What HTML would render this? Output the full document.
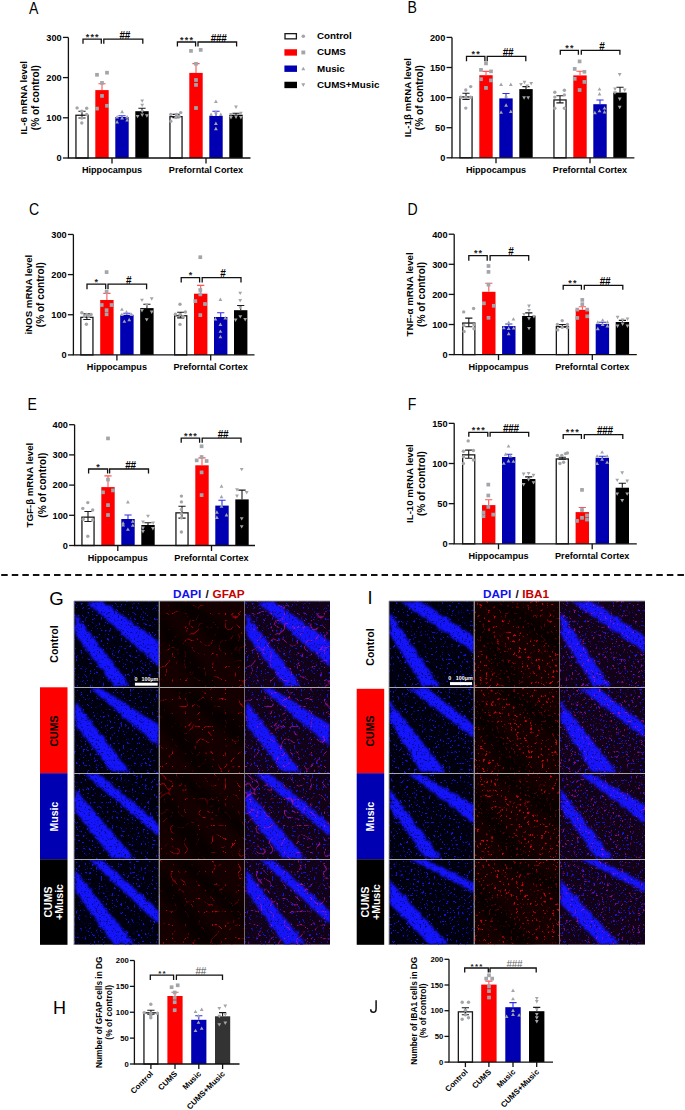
<!DOCTYPE html><html><head><meta charset="utf-8"><style>html,body{margin:0;padding:0;background:#fff;width:685px;height:1110px;overflow:hidden}svg{display:block}text{font-family:"Liberation Sans", sans-serif}</style></head><body>
<svg width="685" height="1110" viewBox="0 0 685 1110">
<rect width="685" height="1110" fill="#fff"/>
<text transform="translate(29.1 13.5) scale(0.88 1)" font-size="16" fill="#000">A</text>
<text transform="translate(407.5 13) scale(0.88 1)" font-size="16" fill="#000">B</text>
<text transform="translate(29 214.8) scale(0.88 1)" font-size="16" fill="#000">C</text>
<text transform="translate(407.5 214.9) scale(0.88 1)" font-size="16" fill="#000">D</text>
<text transform="translate(27.6 410.3) scale(0.88 1)" font-size="16" fill="#000">E</text>
<text transform="translate(407.7 409.6) scale(0.88 1)" font-size="16" fill="#000">F</text>
<text transform="translate(49.3 604.6) scale(1.0 1)" font-size="18.6" fill="#000">G</text>
<text transform="translate(367.4 603.7) scale(1.0 1)" font-size="18.3" fill="#000">I</text>
<text transform="translate(53 1014) scale(1.0 1)" font-size="18" fill="#000">H</text>
<path d="M376.1 1000.2V1008.4C376.1 1011.3 374.7 1012.3 373.3 1012.3C371.8 1012.3 370.7 1011.3 370.7 1009.2" stroke="#111" stroke-width="1.5" fill="none"/>
<rect x="75.95" y="115.25" width="12.1" height="42.75" fill="#fff" stroke="#1a1a1a" stroke-width="1.3"/>
<rect x="95.3" y="90.1" width="13.4" height="67.9" fill="#ff0000"/>
<rect x="115.3" y="117" width="13.4" height="41" fill="#0000b2"/>
<rect x="135.3" y="111.2" width="13.4" height="46.8" fill="#000000"/>
<rect x="169.95" y="116.65" width="12.1" height="41.35" fill="#fff" stroke="#1a1a1a" stroke-width="1.3"/>
<rect x="189.3" y="72.9" width="13.4" height="85.1" fill="#ff0000"/>
<rect x="209.3" y="116" width="13.4" height="42" fill="#0000b2"/>
<rect x="229.3" y="114.7" width="13.4" height="43.3" fill="#000000"/>
<path d="M82 118V111.2M78.4 111.2H85.6M78.4 118H85.6" stroke="#1a1a1a" stroke-width="1.1" fill="none"/>
<path d="M102 90.1V83.7M98.4 83.7H105.6" stroke="#ff5555" stroke-width="1.1" fill="none"/>
<path d="M122 117V115.8M118.4 115.8H125.6" stroke="#3030e8" stroke-width="1.1" fill="none"/>
<path d="M142 111.2V108.3M138.4 108.3H145.6" stroke="#1a1a1a" stroke-width="1.1" fill="none"/>
<path d="M176 117.6V114.4M172.4 114.4H179.6M172.4 117.6H179.6" stroke="#1a1a1a" stroke-width="1.1" fill="none"/>
<path d="M196 72.9V63.6M192.4 63.6H199.6" stroke="#ff5555" stroke-width="1.1" fill="none"/>
<path d="M216 116V111.3M212.4 111.3H219.6" stroke="#3030e8" stroke-width="1.1" fill="none"/>
<path d="M236 114.7V113.2M232.4 113.2H239.6" stroke="#1a1a1a" stroke-width="1.1" fill="none"/>
<circle cx="77.1" cy="107.9" r="1.7" fill="#a2a5a9"/>
<circle cx="86.7" cy="108.3" r="1.7" fill="#a2a5a9"/>
<circle cx="81.8" cy="111.2" r="1.7" fill="#a2a5a9"/>
<circle cx="86.7" cy="114.5" r="1.7" fill="#a2a5a9"/>
<circle cx="81.8" cy="118" r="1.7" fill="#a2a5a9"/>
<circle cx="81.8" cy="123" r="1.7" fill="#a2a5a9"/>
<rect x="95.15" y="72.95" width="3.7" height="3.7" fill="#a2a5a9"/>
<rect x="105.15" y="70.85" width="3.7" height="3.7" fill="#a2a5a9"/>
<rect x="100.15" y="81.05" width="3.7" height="3.7" fill="#a2a5a9"/>
<rect x="100.15" y="94.05" width="3.7" height="3.7" fill="#a2a5a9"/>
<rect x="95.15" y="106.75" width="3.7" height="3.7" fill="#a2a5a9"/>
<rect x="105.15" y="103.95" width="3.7" height="3.7" fill="#a2a5a9"/>
<path d="M122.1 109.8L124 113.22L120.2 113.22Z" fill="#a2a5a9"/>
<path d="M117.1 115.1L119 118.52L115.2 118.52Z" fill="#a2a5a9"/>
<path d="M122.1 116.1L124 119.52L120.2 119.52Z" fill="#a2a5a9"/>
<path d="M127.1 115.1L129 118.52L125.2 118.52Z" fill="#a2a5a9"/>
<path d="M117.1 120.1L119 123.52L115.2 123.52Z" fill="#a2a5a9"/>
<path d="M127.1 118.2L129 121.62L125.2 121.62Z" fill="#a2a5a9"/>
<path d="M142.2 102.8L144.1 99.38L140.3 99.38Z" fill="#a2a5a9"/>
<path d="M142.2 107.1L144.1 103.68L140.3 103.68Z" fill="#a2a5a9"/>
<path d="M142.2 113.3L144.1 109.88L140.3 109.88Z" fill="#a2a5a9"/>
<path d="M137.6 118.3L139.5 114.88L135.7 114.88Z" fill="#a2a5a9"/>
<path d="M142.2 117L144.1 113.58L140.3 113.58Z" fill="#a2a5a9"/>
<path d="M146.9 117.7L148.8 114.28L145 114.28Z" fill="#a2a5a9"/>
<circle cx="170.8" cy="114.4" r="1.7" fill="#a2a5a9"/>
<circle cx="176.4" cy="114.4" r="1.7" fill="#a2a5a9"/>
<circle cx="180.7" cy="112.6" r="1.7" fill="#a2a5a9"/>
<circle cx="178.9" cy="116.3" r="1.7" fill="#a2a5a9"/>
<circle cx="170.8" cy="121.3" r="1.7" fill="#a2a5a9"/>
<circle cx="176" cy="117.5" r="1.7" fill="#a2a5a9"/>
<rect x="189.15" y="49.05" width="3.7" height="3.7" fill="#a2a5a9"/>
<rect x="198.85" y="48.05" width="3.7" height="3.7" fill="#a2a5a9"/>
<rect x="194.15" y="61.95" width="3.7" height="3.7" fill="#a2a5a9"/>
<rect x="194.15" y="78.15" width="3.7" height="3.7" fill="#a2a5a9"/>
<rect x="194.15" y="83.05" width="3.7" height="3.7" fill="#a2a5a9"/>
<rect x="194.15" y="106.15" width="3.7" height="3.7" fill="#a2a5a9"/>
<path d="M215.9 99.5L217.8 102.92L214 102.92Z" fill="#a2a5a9"/>
<path d="M211.1 112.5L213 115.92L209.2 115.92Z" fill="#a2a5a9"/>
<path d="M220.8 112.5L222.7 115.92L218.9 115.92Z" fill="#a2a5a9"/>
<path d="M215.9 110.1L217.8 113.52L214 113.52Z" fill="#a2a5a9"/>
<path d="M215.9 121.5L217.8 124.92L214 124.92Z" fill="#a2a5a9"/>
<path d="M215.9 126.8L217.8 130.22L214 130.22Z" fill="#a2a5a9"/>
<path d="M236 108.9L237.9 105.48L234.1 105.48Z" fill="#a2a5a9"/>
<path d="M231 119.4L232.9 115.98L229.1 115.98Z" fill="#a2a5a9"/>
<path d="M236 118.9L237.9 115.48L234.1 115.48Z" fill="#a2a5a9"/>
<path d="M240.9 119.4L242.8 115.98L239 115.98Z" fill="#a2a5a9"/>
<path d="M231 116.3L232.9 112.88L229.1 112.88Z" fill="#a2a5a9"/>
<path d="M240.9 115.1L242.8 111.68L239 111.68Z" fill="#a2a5a9"/>
<path d="M68.4 37.4V158H250.5" stroke="#111111" stroke-width="1.3" fill="none"/>
<path d="M62.9 158H68.4" stroke="#111111" stroke-width="1.3"/>
<text x="61.7" y="161.31" font-size="9.2" text-anchor="end" font-weight="bold" fill="#000">0</text>
<path d="M62.9 117.8H68.4" stroke="#111111" stroke-width="1.3"/>
<text x="61.7" y="121.11" font-size="9.2" text-anchor="end" font-weight="bold" fill="#000">100</text>
<path d="M62.9 77.6H68.4" stroke="#111111" stroke-width="1.3"/>
<text x="61.7" y="80.91" font-size="9.2" text-anchor="end" font-weight="bold" fill="#000">200</text>
<path d="M62.9 37.4H68.4" stroke="#111111" stroke-width="1.3"/>
<text x="61.7" y="40.71" font-size="9.2" text-anchor="end" font-weight="bold" fill="#000">300</text>
<path d="M112 158V163.5" stroke="#111111" stroke-width="1.3"/>
<path d="M206 158V163.5" stroke="#111111" stroke-width="1.3"/>
<text x="112" y="173" font-size="9.1" text-anchor="middle" font-weight="bold" fill="#000">Hippocampus</text>
<text x="206" y="173" font-size="9.1" text-anchor="middle" font-weight="bold" fill="#000">Preforntal Cortex</text>
<text x="27.3" y="97.7" font-size="9.7" text-anchor="middle" font-weight="bold" fill="#000" transform="rotate(-90 27.3 97.7)">IL-6 mRNA level</text>
<text x="39.4" y="97.7" font-size="10.1" text-anchor="middle" font-weight="bold" fill="#000" transform="rotate(-90 39.4 97.7)">(% of control)</text>
<path d="M83 43.7V39.2H101.3V43.7" stroke="#111" stroke-width="1.3" fill="none"/>
<text x="92.75" y="39.7" font-size="9" text-anchor="middle" font-weight="bold" fill="#222" letter-spacing="1.2">***</text>
<path d="M103.8 43.7V39.2H142.8V43.7" stroke="#111" stroke-width="1.3" fill="none"/>
<text x="124.7" y="38.9" font-size="10" text-anchor="middle" font-weight="bold" fill="#000" letter-spacing="-0.3">##</text>
<path d="M177.4 46.4V42H195.6V46.4" stroke="#111" stroke-width="1.3" fill="none"/>
<text x="187.1" y="42.5" font-size="9" text-anchor="middle" font-weight="bold" fill="#222" letter-spacing="1.2">***</text>
<path d="M198 46.4V42H236.6V46.4" stroke="#111" stroke-width="1.3" fill="none"/>
<text x="218.7" y="41.7" font-size="10" text-anchor="middle" font-weight="bold" fill="#000" letter-spacing="-0.3">###</text>
<rect x="459.95" y="96.95" width="12.1" height="60.85" fill="#fff" stroke="#1a1a1a" stroke-width="1.3"/>
<rect x="479.3" y="75.2" width="13.4" height="82.6" fill="#ff0000"/>
<rect x="499.3" y="98.4" width="13.4" height="59.4" fill="#0000b2"/>
<rect x="519.3" y="89.1" width="13.4" height="68.7" fill="#000000"/>
<rect x="553.95" y="99.95" width="12.1" height="57.85" fill="#fff" stroke="#1a1a1a" stroke-width="1.3"/>
<rect x="573.3" y="75.4" width="13.4" height="82.4" fill="#ff0000"/>
<rect x="593.3" y="104.2" width="13.4" height="53.6" fill="#0000b2"/>
<rect x="613.3" y="92.6" width="13.4" height="65.2" fill="#000000"/>
<path d="M466 99.4V93.2M462.4 93.2H469.6M462.4 99.4H469.6" stroke="#1a1a1a" stroke-width="1.1" fill="none"/>
<path d="M486 75.2V71.4M482.4 71.4H489.6" stroke="#ff5555" stroke-width="1.1" fill="none"/>
<path d="M506 98.4V93.5M502.4 93.5H509.6" stroke="#3030e8" stroke-width="1.1" fill="none"/>
<path d="M526 89.1V86.6M522.4 86.6H529.6" stroke="#1a1a1a" stroke-width="1.1" fill="none"/>
<path d="M560 102.9V95.7M556.4 95.7H563.6M556.4 102.9H563.6" stroke="#1a1a1a" stroke-width="1.1" fill="none"/>
<path d="M580 75.4V71.3M576.4 71.3H583.6" stroke="#ff5555" stroke-width="1.1" fill="none"/>
<path d="M600 104.2V100M596.4 100H603.6" stroke="#3030e8" stroke-width="1.1" fill="none"/>
<path d="M620 92.6V87.2M616.4 87.2H623.6" stroke="#1a1a1a" stroke-width="1.1" fill="none"/>
<circle cx="470.7" cy="86.6" r="1.7" fill="#a2a5a9"/>
<circle cx="465.8" cy="90" r="1.7" fill="#a2a5a9"/>
<circle cx="460.8" cy="97.2" r="1.7" fill="#a2a5a9"/>
<circle cx="465.8" cy="97.2" r="1.7" fill="#a2a5a9"/>
<circle cx="470.7" cy="97.2" r="1.7" fill="#a2a5a9"/>
<circle cx="465.8" cy="108.1" r="1.7" fill="#a2a5a9"/>
<rect x="484.15" y="61.55" width="3.7" height="3.7" fill="#a2a5a9"/>
<rect x="479.15" y="68.05" width="3.7" height="3.7" fill="#a2a5a9"/>
<rect x="489.15" y="69.55" width="3.7" height="3.7" fill="#a2a5a9"/>
<rect x="479.15" y="77.35" width="3.7" height="3.7" fill="#a2a5a9"/>
<rect x="489.15" y="78.55" width="3.7" height="3.7" fill="#a2a5a9"/>
<rect x="484.15" y="86.05" width="3.7" height="3.7" fill="#a2a5a9"/>
<path d="M501.1 82.5L503 85.92L499.2 85.92Z" fill="#a2a5a9"/>
<path d="M510.8 82.5L512.7 85.92L508.9 85.92Z" fill="#a2a5a9"/>
<path d="M506.1 94L508 97.42L504.2 97.42Z" fill="#a2a5a9"/>
<path d="M506.1 103.3L508 106.72L504.2 106.72Z" fill="#a2a5a9"/>
<path d="M501.1 110.4L503 113.82L499.2 113.82Z" fill="#a2a5a9"/>
<path d="M510.8 109.6L512.7 113.02L508.9 113.02Z" fill="#a2a5a9"/>
<path d="M521 86.3L522.9 82.88L519.1 82.88Z" fill="#a2a5a9"/>
<path d="M524.5 84.2L526.4 80.78L522.6 80.78Z" fill="#a2a5a9"/>
<path d="M531.2 85.4L533.1 81.98L529.3 81.98Z" fill="#a2a5a9"/>
<path d="M527.2 87.9L529.1 84.48L525.3 84.48Z" fill="#a2a5a9"/>
<path d="M524.1 99.7L526 96.28L522.2 96.28Z" fill="#a2a5a9"/>
<path d="M528.2 99.7L530.1 96.28L526.3 96.28Z" fill="#a2a5a9"/>
<circle cx="554.8" cy="92.2" r="1.7" fill="#a2a5a9"/>
<circle cx="564.4" cy="90.3" r="1.7" fill="#a2a5a9"/>
<circle cx="564.4" cy="94.9" r="1.7" fill="#a2a5a9"/>
<circle cx="554.8" cy="97.1" r="1.7" fill="#a2a5a9"/>
<circle cx="554.8" cy="108.3" r="1.7" fill="#a2a5a9"/>
<circle cx="564.4" cy="108.3" r="1.7" fill="#a2a5a9"/>
<rect x="577.75" y="59.55" width="3.7" height="3.7" fill="#a2a5a9"/>
<rect x="572.85" y="67.05" width="3.7" height="3.7" fill="#a2a5a9"/>
<rect x="582.55" y="69.95" width="3.7" height="3.7" fill="#a2a5a9"/>
<rect x="572.85" y="76.95" width="3.7" height="3.7" fill="#a2a5a9"/>
<rect x="582.55" y="80.05" width="3.7" height="3.7" fill="#a2a5a9"/>
<rect x="577.75" y="88.15" width="3.7" height="3.7" fill="#a2a5a9"/>
<path d="M599.5 87.2L601.4 90.62L597.6 90.62Z" fill="#a2a5a9"/>
<path d="M599.5 92.1L601.4 95.52L597.6 95.52Z" fill="#a2a5a9"/>
<path d="M604.5 106.2L606.4 109.62L602.6 109.62Z" fill="#a2a5a9"/>
<path d="M599.5 108.9L601.4 112.32L597.6 112.32Z" fill="#a2a5a9"/>
<path d="M604.5 110.1L606.4 113.52L602.6 113.52Z" fill="#a2a5a9"/>
<path d="M594.9 110.8L596.8 114.22L593 114.22Z" fill="#a2a5a9"/>
<path d="M619.7 76.5L621.6 73.08L617.8 73.08Z" fill="#a2a5a9"/>
<path d="M615 91L616.9 87.58L613.1 87.58Z" fill="#a2a5a9"/>
<path d="M624.7 91.9L626.6 88.48L622.8 88.48Z" fill="#a2a5a9"/>
<path d="M615 94.7L616.9 91.28L613.1 91.28Z" fill="#a2a5a9"/>
<path d="M619.7 100.9L621.6 97.48L617.8 97.48Z" fill="#a2a5a9"/>
<path d="M619.7 109.2L621.6 105.78L617.8 105.78Z" fill="#a2a5a9"/>
<path d="M452 37.4V157.8H634.4" stroke="#111111" stroke-width="1.3" fill="none"/>
<path d="M446.5 157.8H452" stroke="#111111" stroke-width="1.3"/>
<text x="445.3" y="161.11" font-size="9.2" text-anchor="end" font-weight="bold" fill="#000">0</text>
<path d="M446.5 127.7H452" stroke="#111111" stroke-width="1.3"/>
<text x="445.3" y="131.01" font-size="9.2" text-anchor="end" font-weight="bold" fill="#000">50</text>
<path d="M446.5 97.6H452" stroke="#111111" stroke-width="1.3"/>
<text x="445.3" y="100.91" font-size="9.2" text-anchor="end" font-weight="bold" fill="#000">100</text>
<path d="M446.5 67.5H452" stroke="#111111" stroke-width="1.3"/>
<text x="445.3" y="70.81" font-size="9.2" text-anchor="end" font-weight="bold" fill="#000">150</text>
<path d="M446.5 37.4H452" stroke="#111111" stroke-width="1.3"/>
<text x="445.3" y="40.71" font-size="9.2" text-anchor="end" font-weight="bold" fill="#000">200</text>
<path d="M496 157.8V163.3" stroke="#111111" stroke-width="1.3"/>
<path d="M590 157.8V163.3" stroke="#111111" stroke-width="1.3"/>
<text x="496" y="172.8" font-size="9.1" text-anchor="middle" font-weight="bold" fill="#000">Hippocampus</text>
<text x="590" y="172.8" font-size="9.1" text-anchor="middle" font-weight="bold" fill="#000">Preforntal Cortex</text>
<text x="410.9" y="97.6" font-size="9.7" text-anchor="middle" font-weight="bold" fill="#000" transform="rotate(-90 410.9 97.6)">IL-1β mRNA level</text>
<text x="423" y="97.6" font-size="10.1" text-anchor="middle" font-weight="bold" fill="#000" transform="rotate(-90 423 97.6)">(% of control)</text>
<path d="M466.5 61.3V56.4H484.9V61.3" stroke="#111" stroke-width="1.3" fill="none"/>
<text x="476.3" y="56.9" font-size="9" text-anchor="middle" font-weight="bold" fill="#222" letter-spacing="1.2">**</text>
<path d="M487.2 61.3V56.4H525.8V61.3" stroke="#111" stroke-width="1.3" fill="none"/>
<text x="507.9" y="56.1" font-size="10" text-anchor="middle" font-weight="bold" fill="#000" letter-spacing="-0.3">##</text>
<path d="M560.3 54.8V50.4H578.4V54.8" stroke="#111" stroke-width="1.3" fill="none"/>
<text x="569.95" y="50.9" font-size="9" text-anchor="middle" font-weight="bold" fill="#222" letter-spacing="1.2">**</text>
<path d="M581.3 54.8V50.4H619.9V54.8" stroke="#111" stroke-width="1.3" fill="none"/>
<text x="602" y="50.1" font-size="10" text-anchor="middle" font-weight="bold" fill="#000" letter-spacing="-0.3">#</text>
<rect x="80.85" y="317.35" width="12.1" height="37.55" fill="#fff" stroke="#1a1a1a" stroke-width="1.3"/>
<rect x="100.2" y="300" width="13.4" height="54.9" fill="#ff0000"/>
<rect x="120.2" y="314.8" width="13.4" height="40.1" fill="#0000b2"/>
<rect x="140.2" y="308.1" width="13.4" height="46.8" fill="#000000"/>
<rect x="174.65" y="315.75" width="12.1" height="39.15" fill="#fff" stroke="#1a1a1a" stroke-width="1.3"/>
<rect x="194" y="293.7" width="13.4" height="61.2" fill="#ff0000"/>
<rect x="214" y="317" width="13.4" height="37.9" fill="#0000b2"/>
<rect x="234" y="310.2" width="13.4" height="44.7" fill="#000000"/>
<path d="M86.9 319.5V313.9M83.3 313.9H90.5M83.3 319.5H90.5" stroke="#1a1a1a" stroke-width="1.1" fill="none"/>
<path d="M106.9 300V293.4M103.3 293.4H110.5" stroke="#ff5555" stroke-width="1.1" fill="none"/>
<path d="M126.9 314.8V313.3M123.3 313.3H130.5" stroke="#3030e8" stroke-width="1.1" fill="none"/>
<path d="M146.9 308.1V304.3M143.3 304.3H150.5" stroke="#1a1a1a" stroke-width="1.1" fill="none"/>
<path d="M180.7 317.9V312.3M177.1 312.3H184.3M177.1 317.9H184.3" stroke="#1a1a1a" stroke-width="1.1" fill="none"/>
<path d="M200.7 293.7V285.4M197.1 285.4H204.3" stroke="#ff5555" stroke-width="1.1" fill="none"/>
<path d="M220.7 317V312.7M217.1 312.7H224.3" stroke="#3030e8" stroke-width="1.1" fill="none"/>
<path d="M240.7 310.2V305.5M237.1 305.5H244.3" stroke="#1a1a1a" stroke-width="1.1" fill="none"/>
<circle cx="81.8" cy="312.7" r="1.7" fill="#a2a5a9"/>
<circle cx="86.8" cy="314.5" r="1.7" fill="#a2a5a9"/>
<circle cx="91.1" cy="314.5" r="1.7" fill="#a2a5a9"/>
<circle cx="84.3" cy="316.4" r="1.7" fill="#a2a5a9"/>
<circle cx="88.6" cy="316.4" r="1.7" fill="#a2a5a9"/>
<circle cx="86.4" cy="324.2" r="1.7" fill="#a2a5a9"/>
<rect x="104.75" y="270.25" width="3.7" height="3.7" fill="#a2a5a9"/>
<rect x="104.75" y="290.05" width="3.7" height="3.7" fill="#a2a5a9"/>
<rect x="99.85" y="303.15" width="3.7" height="3.7" fill="#a2a5a9"/>
<rect x="109.75" y="303.15" width="3.7" height="3.7" fill="#a2a5a9"/>
<rect x="104.75" y="308.35" width="3.7" height="3.7" fill="#a2a5a9"/>
<rect x="104.75" y="312.45" width="3.7" height="3.7" fill="#a2a5a9"/>
<path d="M121.9 307.4L123.8 310.82L120 310.82Z" fill="#a2a5a9"/>
<path d="M126.5 310.1L128.4 313.52L124.6 313.52Z" fill="#a2a5a9"/>
<path d="M121.9 312.6L123.8 316.02L120 316.02Z" fill="#a2a5a9"/>
<path d="M131.5 312.6L133.4 316.02L129.6 316.02Z" fill="#a2a5a9"/>
<path d="M124.4 319.4L126.3 322.82L122.5 322.82Z" fill="#a2a5a9"/>
<path d="M129.2 317.8L131.1 321.22L127.3 321.22Z" fill="#a2a5a9"/>
<path d="M142 302.1L143.9 298.68L140.1 298.68Z" fill="#a2a5a9"/>
<path d="M151.7 300.7L153.6 297.28L149.8 297.28Z" fill="#a2a5a9"/>
<path d="M146.7 307.1L148.6 303.68L144.8 303.68Z" fill="#a2a5a9"/>
<path d="M142 312.4L143.9 308.98L140.1 308.98Z" fill="#a2a5a9"/>
<path d="M151.7 313.9L153.6 310.48L149.8 310.48Z" fill="#a2a5a9"/>
<path d="M146.7 321.6L148.6 318.18L144.8 318.18Z" fill="#a2a5a9"/>
<circle cx="180" cy="304.3" r="1.7" fill="#a2a5a9"/>
<circle cx="185.4" cy="312" r="1.7" fill="#a2a5a9"/>
<circle cx="175.4" cy="314.3" r="1.7" fill="#a2a5a9"/>
<circle cx="180" cy="314.5" r="1.7" fill="#a2a5a9"/>
<circle cx="182.9" cy="316.4" r="1.7" fill="#a2a5a9"/>
<circle cx="180" cy="324.4" r="1.7" fill="#a2a5a9"/>
<rect x="198.45" y="255.35" width="3.7" height="3.7" fill="#a2a5a9"/>
<rect x="198.45" y="288.15" width="3.7" height="3.7" fill="#a2a5a9"/>
<rect x="198.45" y="292.55" width="3.7" height="3.7" fill="#a2a5a9"/>
<rect x="193.45" y="299.25" width="3.7" height="3.7" fill="#a2a5a9"/>
<rect x="203.15" y="302.15" width="3.7" height="3.7" fill="#a2a5a9"/>
<rect x="198.45" y="313.25" width="3.7" height="3.7" fill="#a2a5a9"/>
<path d="M220.4 297.5L222.3 300.92L218.5 300.92Z" fill="#a2a5a9"/>
<path d="M215.4 317L217.3 320.42L213.5 320.42Z" fill="#a2a5a9"/>
<path d="M225.3 316.1L227.2 319.52L223.4 319.52Z" fill="#a2a5a9"/>
<path d="M220.4 322.5L222.3 325.92L218.5 325.92Z" fill="#a2a5a9"/>
<path d="M220.4 329.4L222.3 332.82L218.5 332.82Z" fill="#a2a5a9"/>
<path d="M220.4 334.9L222.3 338.32L218.5 338.32Z" fill="#a2a5a9"/>
<path d="M240.2 295.1L242.1 291.68L238.3 291.68Z" fill="#a2a5a9"/>
<path d="M240.2 302.5L242.1 299.08L238.3 299.08Z" fill="#a2a5a9"/>
<path d="M240.2 309.6L242.1 306.18L238.3 306.18Z" fill="#a2a5a9"/>
<path d="M235.6 322L237.5 318.58L233.7 318.58Z" fill="#a2a5a9"/>
<path d="M240.3 318.6L242.2 315.18L238.4 315.18Z" fill="#a2a5a9"/>
<path d="M245.2 321.4L247.1 317.98L243.3 317.98Z" fill="#a2a5a9"/>
<path d="M73.4 234.45V354.9H254.5" stroke="#111111" stroke-width="1.3" fill="none"/>
<path d="M67.9 354.9H73.4" stroke="#111111" stroke-width="1.3"/>
<text x="66.7" y="358.21" font-size="9.2" text-anchor="end" font-weight="bold" fill="#000">0</text>
<path d="M67.9 314.75H73.4" stroke="#111111" stroke-width="1.3"/>
<text x="66.7" y="318.06" font-size="9.2" text-anchor="end" font-weight="bold" fill="#000">100</text>
<path d="M67.9 274.6H73.4" stroke="#111111" stroke-width="1.3"/>
<text x="66.7" y="277.91" font-size="9.2" text-anchor="end" font-weight="bold" fill="#000">200</text>
<path d="M67.9 234.45H73.4" stroke="#111111" stroke-width="1.3"/>
<text x="66.7" y="237.76" font-size="9.2" text-anchor="end" font-weight="bold" fill="#000">300</text>
<path d="M116.9 354.9V360.4" stroke="#111111" stroke-width="1.3"/>
<path d="M210.7 354.9V360.4" stroke="#111111" stroke-width="1.3"/>
<text x="116.9" y="369.9" font-size="9.1" text-anchor="middle" font-weight="bold" fill="#000">Hippocampus</text>
<text x="210.7" y="369.9" font-size="9.1" text-anchor="middle" font-weight="bold" fill="#000">Preforntal Cortex</text>
<text x="32.3" y="294.67" font-size="9.7" text-anchor="middle" font-weight="bold" fill="#000" transform="rotate(-90 32.3 294.67)">iNOS mRNA level</text>
<text x="44.4" y="294.67" font-size="10.1" text-anchor="middle" font-weight="bold" fill="#000" transform="rotate(-90 44.4 294.67)">(% of control)</text>
<path d="M87 289.2V284.2H105.7V289.2" stroke="#111" stroke-width="1.3" fill="none"/>
<text x="96.95" y="284.7" font-size="9" text-anchor="middle" font-weight="bold" fill="#222" letter-spacing="1.2">*</text>
<path d="M108 289.2V284.2H146.6V289.2" stroke="#111" stroke-width="1.3" fill="none"/>
<text x="128.7" y="283.9" font-size="10" text-anchor="middle" font-weight="bold" fill="#000" letter-spacing="-0.3">#</text>
<path d="M181.2 282.5V277.6H199.6V282.5" stroke="#111" stroke-width="1.3" fill="none"/>
<text x="191" y="278.1" font-size="9" text-anchor="middle" font-weight="bold" fill="#222" letter-spacing="1.2">*</text>
<path d="M202.2 282.5V277.6H241V282.5" stroke="#111" stroke-width="1.3" fill="none"/>
<text x="223" y="277.3" font-size="10" text-anchor="middle" font-weight="bold" fill="#000" letter-spacing="-0.3">#</text>
<rect x="462.75" y="323.05" width="12.1" height="31.55" fill="#fff" stroke="#1a1a1a" stroke-width="1.3"/>
<rect x="482.1" y="291.8" width="13.4" height="62.8" fill="#ff0000"/>
<rect x="502.1" y="326.1" width="13.4" height="28.5" fill="#0000b2"/>
<rect x="522.1" y="316" width="13.4" height="38.6" fill="#000000"/>
<rect x="556.35" y="326.55" width="12.1" height="28.05" fill="#fff" stroke="#1a1a1a" stroke-width="1.3"/>
<rect x="575.7" y="309.8" width="13.4" height="44.8" fill="#ff0000"/>
<rect x="595.7" y="324.1" width="13.4" height="30.5" fill="#0000b2"/>
<rect x="615.7" y="322" width="13.4" height="32.6" fill="#000000"/>
<path d="M468.8 326.7V318.1M465.2 318.1H472.4M465.2 326.7H472.4" stroke="#1a1a1a" stroke-width="1.1" fill="none"/>
<path d="M488.8 291.8V283.3M485.2 283.3H492.4" stroke="#ff5555" stroke-width="1.1" fill="none"/>
<path d="M508.8 326.1V324M505.2 324H512.4" stroke="#3030e8" stroke-width="1.1" fill="none"/>
<path d="M528.8 316V312.9M525.2 312.9H532.4" stroke="#1a1a1a" stroke-width="1.1" fill="none"/>
<path d="M562.4 327.3V324.5M558.8 324.5H566M558.8 327.3H566" stroke="#1a1a1a" stroke-width="1.1" fill="none"/>
<path d="M582.4 309.8V306.7M578.8 306.7H586" stroke="#ff5555" stroke-width="1.1" fill="none"/>
<path d="M602.4 324.1V322.2M598.8 322.2H606" stroke="#3030e8" stroke-width="1.1" fill="none"/>
<path d="M622.4 322V320.4M618.8 320.4H626" stroke="#1a1a1a" stroke-width="1.1" fill="none"/>
<circle cx="463.7" cy="311.9" r="1.7" fill="#a2a5a9"/>
<circle cx="473.6" cy="308.5" r="1.7" fill="#a2a5a9"/>
<circle cx="463.7" cy="325.5" r="1.7" fill="#a2a5a9"/>
<circle cx="474" cy="324.7" r="1.7" fill="#a2a5a9"/>
<circle cx="464.1" cy="331.5" r="1.7" fill="#a2a5a9"/>
<circle cx="474" cy="328.7" r="1.7" fill="#a2a5a9"/>
<rect x="486.65" y="264.15" width="3.7" height="3.7" fill="#a2a5a9"/>
<rect x="486.65" y="270.05" width="3.7" height="3.7" fill="#a2a5a9"/>
<rect x="486.65" y="282.85" width="3.7" height="3.7" fill="#a2a5a9"/>
<rect x="482.05" y="301.45" width="3.7" height="3.7" fill="#a2a5a9"/>
<rect x="491.95" y="303.95" width="3.7" height="3.7" fill="#a2a5a9"/>
<rect x="486.65" y="315.95" width="3.7" height="3.7" fill="#a2a5a9"/>
<path d="M513.4 317.2L515.3 320.62L511.5 320.62Z" fill="#a2a5a9"/>
<path d="M508.7 320.5L510.6 323.92L506.8 323.92Z" fill="#a2a5a9"/>
<path d="M503.8 325.9L505.7 329.32L501.9 329.32Z" fill="#a2a5a9"/>
<path d="M508.7 326.5L510.6 329.92L506.8 329.92Z" fill="#a2a5a9"/>
<path d="M513.7 326.2L515.6 329.62L511.8 329.62Z" fill="#a2a5a9"/>
<path d="M508.7 331.8L510.6 335.22L506.8 335.22Z" fill="#a2a5a9"/>
<path d="M529 307.9L530.9 304.48L527.1 304.48Z" fill="#a2a5a9"/>
<path d="M529 312.3L530.9 308.88L527.1 308.88Z" fill="#a2a5a9"/>
<path d="M524 316.3L525.9 312.88L522.1 312.88Z" fill="#a2a5a9"/>
<path d="M533.9 318.5L535.8 315.08L532 315.08Z" fill="#a2a5a9"/>
<path d="M529 320.4L530.9 316.98L527.1 316.98Z" fill="#a2a5a9"/>
<path d="M529 330.3L530.9 326.88L527.1 326.88Z" fill="#a2a5a9"/>
<circle cx="562.2" cy="320.6" r="1.7" fill="#a2a5a9"/>
<circle cx="557.4" cy="324.5" r="1.7" fill="#a2a5a9"/>
<circle cx="567.4" cy="324.5" r="1.7" fill="#a2a5a9"/>
<circle cx="562.2" cy="327.2" r="1.7" fill="#a2a5a9"/>
<circle cx="557.7" cy="329.9" r="1.7" fill="#a2a5a9"/>
<circle cx="567.4" cy="327.8" r="1.7" fill="#a2a5a9"/>
<rect x="580.45" y="298.05" width="3.7" height="3.7" fill="#a2a5a9"/>
<rect x="580.45" y="302.35" width="3.7" height="3.7" fill="#a2a5a9"/>
<rect x="575.45" y="307.75" width="3.7" height="3.7" fill="#a2a5a9"/>
<rect x="585.35" y="307.75" width="3.7" height="3.7" fill="#a2a5a9"/>
<rect x="575.45" y="316.05" width="3.7" height="3.7" fill="#a2a5a9"/>
<rect x="585.35" y="314.45" width="3.7" height="3.7" fill="#a2a5a9"/>
<path d="M602.7 318.2L604.6 321.62L600.8 321.62Z" fill="#a2a5a9"/>
<path d="M597.8 320.3L599.7 323.72L595.9 323.72Z" fill="#a2a5a9"/>
<path d="M607.4 320.1L609.3 323.52L605.5 323.52Z" fill="#a2a5a9"/>
<path d="M602.7 322.6L604.6 326.02L600.8 326.02Z" fill="#a2a5a9"/>
<path d="M607.4 324L609.3 327.42L605.5 327.42Z" fill="#a2a5a9"/>
<path d="M597.8 326.8L599.7 330.22L595.9 330.22Z" fill="#a2a5a9"/>
<path d="M617.6 319.2L619.5 315.78L615.7 315.78Z" fill="#a2a5a9"/>
<path d="M627.5 321L629.4 317.58L625.6 317.58Z" fill="#a2a5a9"/>
<path d="M622.6 321.9L624.5 318.48L620.7 318.48Z" fill="#a2a5a9"/>
<path d="M617.6 327.9L619.5 324.48L615.7 324.48Z" fill="#a2a5a9"/>
<path d="M622.6 326L624.5 322.58L620.7 322.58Z" fill="#a2a5a9"/>
<path d="M627.5 327.9L629.4 324.48L625.6 324.48Z" fill="#a2a5a9"/>
<path d="M454.2 234.2V354.6H636.8" stroke="#111111" stroke-width="1.3" fill="none"/>
<path d="M448.7 354.6H454.2" stroke="#111111" stroke-width="1.3"/>
<text x="447.5" y="357.91" font-size="9.2" text-anchor="end" font-weight="bold" fill="#000">0</text>
<path d="M448.7 324.5H454.2" stroke="#111111" stroke-width="1.3"/>
<text x="447.5" y="327.81" font-size="9.2" text-anchor="end" font-weight="bold" fill="#000">100</text>
<path d="M448.7 294.4H454.2" stroke="#111111" stroke-width="1.3"/>
<text x="447.5" y="297.71" font-size="9.2" text-anchor="end" font-weight="bold" fill="#000">200</text>
<path d="M448.7 264.3H454.2" stroke="#111111" stroke-width="1.3"/>
<text x="447.5" y="267.61" font-size="9.2" text-anchor="end" font-weight="bold" fill="#000">300</text>
<path d="M448.7 234.2H454.2" stroke="#111111" stroke-width="1.3"/>
<text x="447.5" y="237.51" font-size="9.2" text-anchor="end" font-weight="bold" fill="#000">400</text>
<path d="M498.5 354.6V360.1" stroke="#111111" stroke-width="1.3"/>
<path d="M592.3 354.6V360.1" stroke="#111111" stroke-width="1.3"/>
<text x="498.5" y="369.6" font-size="9.1" text-anchor="middle" font-weight="bold" fill="#000">Hippocampus</text>
<text x="592.3" y="369.6" font-size="9.1" text-anchor="middle" font-weight="bold" fill="#000">Preforntal Cortex</text>
<text x="413.1" y="294.4" font-size="9.7" text-anchor="middle" font-weight="bold" fill="#000" transform="rotate(-90 413.1 294.4)">TNF-α mRNA level</text>
<text x="425.2" y="294.4" font-size="10.1" text-anchor="middle" font-weight="bold" fill="#000" transform="rotate(-90 425.2 294.4)">(% of control)</text>
<path d="M468.8 260.7V255.7H487.2V260.7" stroke="#111" stroke-width="1.3" fill="none"/>
<text x="478.6" y="256.2" font-size="9" text-anchor="middle" font-weight="bold" fill="#222" letter-spacing="1.2">**</text>
<path d="M490.1 260.7V255.7H528.7V260.7" stroke="#111" stroke-width="1.3" fill="none"/>
<text x="510.8" y="255.4" font-size="10" text-anchor="middle" font-weight="bold" fill="#000" letter-spacing="-0.3">#</text>
<path d="M563.2 289.8V285.4H581.4V289.8" stroke="#111" stroke-width="1.3" fill="none"/>
<text x="572.9" y="285.9" font-size="9" text-anchor="middle" font-weight="bold" fill="#222" letter-spacing="1.2">**</text>
<path d="M584.3 289.8V285.4H622.8V289.8" stroke="#111" stroke-width="1.3" fill="none"/>
<text x="604.95" y="285.1" font-size="10" text-anchor="middle" font-weight="bold" fill="#000" letter-spacing="-0.3">##</text>
<rect x="81.95" y="517.15" width="12.1" height="28.35" fill="#fff" stroke="#1a1a1a" stroke-width="1.3"/>
<rect x="101.3" y="487.1" width="13.4" height="58.4" fill="#ff0000"/>
<rect x="121.3" y="519" width="13.4" height="26.5" fill="#0000b2"/>
<rect x="141.3" y="525" width="13.4" height="20.5" fill="#000000"/>
<rect x="175.95" y="512.85" width="12.1" height="32.65" fill="#fff" stroke="#1a1a1a" stroke-width="1.3"/>
<rect x="195.3" y="465.3" width="13.4" height="80.2" fill="#ff0000"/>
<rect x="215.3" y="505.6" width="13.4" height="39.9" fill="#0000b2"/>
<rect x="235.3" y="499.4" width="13.4" height="46.1" fill="#000000"/>
<path d="M88 521.5V511.5M84.4 511.5H91.6M84.4 521.5H91.6" stroke="#1a1a1a" stroke-width="1.1" fill="none"/>
<path d="M108 487.1V475.9M104.4 475.9H111.6" stroke="#ff5555" stroke-width="1.1" fill="none"/>
<path d="M128 519V515M124.4 515H131.6" stroke="#3030e8" stroke-width="1.1" fill="none"/>
<path d="M148 525V522.8M144.4 522.8H151.6" stroke="#1a1a1a" stroke-width="1.1" fill="none"/>
<path d="M182 518.1V506.3M178.4 506.3H185.6M178.4 518.1H185.6" stroke="#1a1a1a" stroke-width="1.1" fill="none"/>
<path d="M202 465.3V457.9M198.4 457.9H205.6" stroke="#ff5555" stroke-width="1.1" fill="none"/>
<path d="M222 505.6V500.3M218.4 500.3H225.6" stroke="#3030e8" stroke-width="1.1" fill="none"/>
<path d="M242 499.4V490.1M238.4 490.1H245.6" stroke="#1a1a1a" stroke-width="1.1" fill="none"/>
<circle cx="87.8" cy="502.6" r="1.7" fill="#a2a5a9"/>
<circle cx="82.8" cy="508.4" r="1.7" fill="#a2a5a9"/>
<circle cx="92.7" cy="510" r="1.7" fill="#a2a5a9"/>
<circle cx="83.2" cy="519.3" r="1.7" fill="#a2a5a9"/>
<circle cx="92.7" cy="520" r="1.7" fill="#a2a5a9"/>
<circle cx="87.8" cy="536.3" r="1.7" fill="#a2a5a9"/>
<rect x="106.15" y="436.55" width="3.7" height="3.7" fill="#a2a5a9"/>
<rect x="106.15" y="477.75" width="3.7" height="3.7" fill="#a2a5a9"/>
<rect x="101.15" y="490.45" width="3.7" height="3.7" fill="#a2a5a9"/>
<rect x="111.15" y="488.55" width="3.7" height="3.7" fill="#a2a5a9"/>
<rect x="106.15" y="503.25" width="3.7" height="3.7" fill="#a2a5a9"/>
<rect x="106.15" y="513.15" width="3.7" height="3.7" fill="#a2a5a9"/>
<path d="M127.9 500.1L129.8 503.52L126 503.52Z" fill="#a2a5a9"/>
<path d="M123.1 521.2L125 524.62L121.2 524.62Z" fill="#a2a5a9"/>
<path d="M132.8 519.3L134.7 522.72L130.9 522.72Z" fill="#a2a5a9"/>
<path d="M132.8 523.4L134.7 526.82L130.9 526.82Z" fill="#a2a5a9"/>
<path d="M127.9 527.4L129.8 530.82L126 530.82Z" fill="#a2a5a9"/>
<path d="M123.1 523.1L125 526.52L121.2 526.52Z" fill="#a2a5a9"/>
<path d="M148 518.1L149.9 514.68L146.1 514.68Z" fill="#a2a5a9"/>
<path d="M143 524L144.9 520.58L141.1 520.58Z" fill="#a2a5a9"/>
<path d="M153.2 525L155.1 521.58L151.3 521.58Z" fill="#a2a5a9"/>
<path d="M143 529.9L144.9 526.48L141.1 526.48Z" fill="#a2a5a9"/>
<path d="M152.9 530.5L154.8 527.08L151 527.08Z" fill="#a2a5a9"/>
<path d="M143 533.4L144.9 529.98L141.1 529.98Z" fill="#a2a5a9"/>
<circle cx="181.4" cy="496.1" r="1.7" fill="#a2a5a9"/>
<circle cx="181.4" cy="501.9" r="1.7" fill="#a2a5a9"/>
<circle cx="181.4" cy="509.4" r="1.7" fill="#a2a5a9"/>
<circle cx="181.4" cy="513.7" r="1.7" fill="#a2a5a9"/>
<circle cx="181.4" cy="517.8" r="1.7" fill="#a2a5a9"/>
<circle cx="181.4" cy="532" r="1.7" fill="#a2a5a9"/>
<rect x="199.75" y="444.45" width="3.7" height="3.7" fill="#a2a5a9"/>
<rect x="199.75" y="455.15" width="3.7" height="3.7" fill="#a2a5a9"/>
<rect x="194.85" y="458.55" width="3.7" height="3.7" fill="#a2a5a9"/>
<rect x="204.75" y="459.15" width="3.7" height="3.7" fill="#a2a5a9"/>
<rect x="199.75" y="470.55" width="3.7" height="3.7" fill="#a2a5a9"/>
<rect x="199.75" y="493.25" width="3.7" height="3.7" fill="#a2a5a9"/>
<path d="M221.5 484.3L223.4 487.72L219.6 487.72Z" fill="#a2a5a9"/>
<path d="M221.5 494.8L223.4 498.22L219.6 498.22Z" fill="#a2a5a9"/>
<path d="M221.5 504.4L223.4 507.82L219.6 507.82Z" fill="#a2a5a9"/>
<path d="M216.9 510.3L218.8 513.72L215 513.72Z" fill="#a2a5a9"/>
<path d="M226.5 513.1L228.4 516.52L224.6 516.52Z" fill="#a2a5a9"/>
<path d="M216.9 515.5L218.8 518.92L215 518.92Z" fill="#a2a5a9"/>
<path d="M241.7 471.3L243.6 467.88L239.8 467.88Z" fill="#a2a5a9"/>
<path d="M237 491.7L238.9 488.28L235.1 488.28Z" fill="#a2a5a9"/>
<path d="M246.7 494.5L248.6 491.08L244.8 491.08Z" fill="#a2a5a9"/>
<path d="M237 497.9L238.9 494.48L235.1 494.48Z" fill="#a2a5a9"/>
<path d="M241.7 520.6L243.6 517.18L239.8 517.18Z" fill="#a2a5a9"/>
<path d="M241.7 528.6L243.6 525.18L239.8 525.18Z" fill="#a2a5a9"/>
<path d="M74.6 424.7V545.5H255" stroke="#111111" stroke-width="1.3" fill="none"/>
<path d="M69.1 545.5H74.6" stroke="#111111" stroke-width="1.3"/>
<text x="67.9" y="548.81" font-size="9.2" text-anchor="end" font-weight="bold" fill="#000">0</text>
<path d="M69.1 515.3H74.6" stroke="#111111" stroke-width="1.3"/>
<text x="67.9" y="518.61" font-size="9.2" text-anchor="end" font-weight="bold" fill="#000">100</text>
<path d="M69.1 485.1H74.6" stroke="#111111" stroke-width="1.3"/>
<text x="67.9" y="488.41" font-size="9.2" text-anchor="end" font-weight="bold" fill="#000">200</text>
<path d="M69.1 454.9H74.6" stroke="#111111" stroke-width="1.3"/>
<text x="67.9" y="458.21" font-size="9.2" text-anchor="end" font-weight="bold" fill="#000">300</text>
<path d="M69.1 424.7H74.6" stroke="#111111" stroke-width="1.3"/>
<text x="67.9" y="428.01" font-size="9.2" text-anchor="end" font-weight="bold" fill="#000">400</text>
<path d="M117.8 545.5V551" stroke="#111111" stroke-width="1.3"/>
<path d="M211.5 545.5V551" stroke="#111111" stroke-width="1.3"/>
<text x="117.8" y="560.5" font-size="9.1" text-anchor="middle" font-weight="bold" fill="#000">Hippocampus</text>
<text x="211.5" y="560.5" font-size="9.1" text-anchor="middle" font-weight="bold" fill="#000">Preforntal Cortex</text>
<text x="33.5" y="485.1" font-size="9.7" text-anchor="middle" font-weight="bold" fill="#000" transform="rotate(-90 33.5 485.1)">TGF-β mRNA level</text>
<text x="45.6" y="485.1" font-size="10.1" text-anchor="middle" font-weight="bold" fill="#000" transform="rotate(-90 45.6 485.1)">(% of control)</text>
<path d="M88.6 473.4V469H107.6V473.4" stroke="#111" stroke-width="1.3" fill="none"/>
<text x="98.7" y="469.5" font-size="9" text-anchor="middle" font-weight="bold" fill="#222" letter-spacing="1.2">*</text>
<path d="M109.6 473.4V469H148.5V473.4" stroke="#111" stroke-width="1.3" fill="none"/>
<text x="130.45" y="468.7" font-size="10" text-anchor="middle" font-weight="bold" fill="#000" letter-spacing="-0.3">##</text>
<path d="M181.2 442.8V438.1H199.6V442.8" stroke="#111" stroke-width="1.3" fill="none"/>
<text x="191" y="438.6" font-size="9" text-anchor="middle" font-weight="bold" fill="#222" letter-spacing="1.2">***</text>
<path d="M202.2 442.8V438.1H241V442.8" stroke="#111" stroke-width="1.3" fill="none"/>
<text x="223" y="437.8" font-size="10" text-anchor="middle" font-weight="bold" fill="#000" letter-spacing="-0.3">##</text>
<rect x="462.65" y="454.85" width="12.1" height="88.95" fill="#fff" stroke="#1a1a1a" stroke-width="1.3"/>
<rect x="482" y="505.1" width="13.4" height="38.7" fill="#ff0000"/>
<rect x="502" y="457" width="13.4" height="86.8" fill="#0000b2"/>
<rect x="522" y="479" width="13.4" height="64.8" fill="#000000"/>
<rect x="556.25" y="458.95" width="12.1" height="84.85" fill="#fff" stroke="#1a1a1a" stroke-width="1.3"/>
<rect x="575.6" y="512.1" width="13.4" height="31.7" fill="#ff0000"/>
<rect x="595.6" y="457.9" width="13.4" height="85.9" fill="#0000b2"/>
<rect x="615.6" y="487.7" width="13.4" height="56.1" fill="#000000"/>
<path d="M468.7 458.3V450.1M465.1 450.1H472.3M465.1 458.3H472.3" stroke="#1a1a1a" stroke-width="1.1" fill="none"/>
<path d="M488.7 505.1V499.7M485.1 499.7H492.3" stroke="#ff5555" stroke-width="1.1" fill="none"/>
<path d="M508.7 457V454.2M505.1 454.2H512.3" stroke="#3030e8" stroke-width="1.1" fill="none"/>
<path d="M528.7 479V476.9M525.1 476.9H532.3" stroke="#1a1a1a" stroke-width="1.1" fill="none"/>
<path d="M562.3 459.3V457.3M558.7 457.3H565.9M558.7 459.3H565.9" stroke="#1a1a1a" stroke-width="1.1" fill="none"/>
<path d="M582.3 512.1V507.5M578.7 507.5H585.9" stroke="#ff5555" stroke-width="1.1" fill="none"/>
<path d="M602.3 457.9V456.3M598.7 456.3H605.9" stroke="#3030e8" stroke-width="1.1" fill="none"/>
<path d="M622.3 487.7V483.3M618.7 483.3H625.9" stroke="#1a1a1a" stroke-width="1.1" fill="none"/>
<circle cx="468.2" cy="440.9" r="1.7" fill="#a2a5a9"/>
<circle cx="473.4" cy="450.5" r="1.7" fill="#a2a5a9"/>
<circle cx="463.4" cy="451.3" r="1.7" fill="#a2a5a9"/>
<circle cx="463.4" cy="456.7" r="1.7" fill="#a2a5a9"/>
<circle cx="473.4" cy="460" r="1.7" fill="#a2a5a9"/>
<circle cx="463.4" cy="463.5" r="1.7" fill="#a2a5a9"/>
<rect x="486.45" y="482.75" width="3.7" height="3.7" fill="#a2a5a9"/>
<rect x="486.45" y="493.65" width="3.7" height="3.7" fill="#a2a5a9"/>
<rect x="486.45" y="505.05" width="3.7" height="3.7" fill="#a2a5a9"/>
<rect x="481.65" y="510.65" width="3.7" height="3.7" fill="#a2a5a9"/>
<rect x="481.65" y="514.35" width="3.7" height="3.7" fill="#a2a5a9"/>
<rect x="491.35" y="512.75" width="3.7" height="3.7" fill="#a2a5a9"/>
<path d="M508.5 444.2L510.4 447.62L506.6 447.62Z" fill="#a2a5a9"/>
<path d="M505.6 452.3L507.5 455.72L503.7 455.72Z" fill="#a2a5a9"/>
<path d="M510.6 454.2L512.5 457.62L508.7 457.62Z" fill="#a2a5a9"/>
<path d="M508.5 459.1L510.4 462.52L506.6 462.52Z" fill="#a2a5a9"/>
<path d="M513.4 459.4L515.3 462.82L511.5 462.82Z" fill="#a2a5a9"/>
<path d="M503.8 461.4L505.7 464.82L501.9 464.82Z" fill="#a2a5a9"/>
<path d="M523.6 475.9L525.5 472.48L521.7 472.48Z" fill="#a2a5a9"/>
<path d="M528.6 475.3L530.5 471.88L526.7 471.88Z" fill="#a2a5a9"/>
<path d="M533.5 477.2L535.4 473.78L531.6 473.78Z" fill="#a2a5a9"/>
<path d="M528.6 481.5L530.5 478.08L526.7 478.08Z" fill="#a2a5a9"/>
<path d="M523.6 486.5L525.5 483.08L521.7 483.08Z" fill="#a2a5a9"/>
<path d="M533.5 484.6L535.4 481.18L531.6 481.18Z" fill="#a2a5a9"/>
<circle cx="557.4" cy="455.4" r="1.7" fill="#a2a5a9"/>
<circle cx="561.8" cy="455.4" r="1.7" fill="#a2a5a9"/>
<circle cx="565.5" cy="453.6" r="1.7" fill="#a2a5a9"/>
<circle cx="567.4" cy="453" r="1.7" fill="#a2a5a9"/>
<circle cx="559.9" cy="463.5" r="1.7" fill="#a2a5a9"/>
<circle cx="563.6" cy="462.3" r="1.7" fill="#a2a5a9"/>
<rect x="580.15" y="488.05" width="3.7" height="3.7" fill="#a2a5a9"/>
<rect x="580.15" y="508.15" width="3.7" height="3.7" fill="#a2a5a9"/>
<rect x="585.15" y="513.55" width="3.7" height="3.7" fill="#a2a5a9"/>
<rect x="580.15" y="515.95" width="3.7" height="3.7" fill="#a2a5a9"/>
<rect x="575.15" y="519.05" width="3.7" height="3.7" fill="#a2a5a9"/>
<rect x="585.15" y="517.75" width="3.7" height="3.7" fill="#a2a5a9"/>
<path d="M602.1 450.2L604 453.62L600.2 453.62Z" fill="#a2a5a9"/>
<path d="M597.1 454.2L599 457.62L595.2 457.62Z" fill="#a2a5a9"/>
<path d="M607.1 454.2L609 457.62L605.2 457.62Z" fill="#a2a5a9"/>
<path d="M602.1 457.3L604 460.72L600.2 460.72Z" fill="#a2a5a9"/>
<path d="M597.1 461.6L599 465.02L595.2 465.02Z" fill="#a2a5a9"/>
<path d="M607.1 460.4L609 463.82L605.2 463.82Z" fill="#a2a5a9"/>
<path d="M622.2 474.7L624.1 471.28L620.3 471.28Z" fill="#a2a5a9"/>
<path d="M617.2 482.1L619.1 478.68L615.3 478.68Z" fill="#a2a5a9"/>
<path d="M627.2 483L629.1 479.58L625.3 479.58Z" fill="#a2a5a9"/>
<path d="M617.2 495.8L619.1 492.38L615.3 492.38Z" fill="#a2a5a9"/>
<path d="M627.2 495.8L629.1 492.38L625.3 492.38Z" fill="#a2a5a9"/>
<path d="M622.2 502.4L624.1 498.98L620.3 498.98Z" fill="#a2a5a9"/>
<path d="M454.2 423.35V543.8H636.8" stroke="#111111" stroke-width="1.3" fill="none"/>
<path d="M448.7 543.8H454.2" stroke="#111111" stroke-width="1.3"/>
<text x="447.5" y="547.11" font-size="9.2" text-anchor="end" font-weight="bold" fill="#000">0</text>
<path d="M448.7 503.65H454.2" stroke="#111111" stroke-width="1.3"/>
<text x="447.5" y="506.96" font-size="9.2" text-anchor="end" font-weight="bold" fill="#000">50</text>
<path d="M448.7 463.5H454.2" stroke="#111111" stroke-width="1.3"/>
<text x="447.5" y="466.81" font-size="9.2" text-anchor="end" font-weight="bold" fill="#000">100</text>
<path d="M448.7 423.35H454.2" stroke="#111111" stroke-width="1.3"/>
<text x="447.5" y="426.66" font-size="9.2" text-anchor="end" font-weight="bold" fill="#000">150</text>
<path d="M498.5 543.8V549.3" stroke="#111111" stroke-width="1.3"/>
<path d="M592.2 543.8V549.3" stroke="#111111" stroke-width="1.3"/>
<text x="498.5" y="558.8" font-size="9.1" text-anchor="middle" font-weight="bold" fill="#000">Hippocampus</text>
<text x="592.2" y="558.8" font-size="9.1" text-anchor="middle" font-weight="bold" fill="#000">Preforntal Cortex</text>
<text x="413.1" y="483.57" font-size="9.7" text-anchor="middle" font-weight="bold" fill="#000" transform="rotate(-90 413.1 483.57)">IL-10 mRNA level</text>
<text x="425.2" y="483.57" font-size="10.1" text-anchor="middle" font-weight="bold" fill="#000" transform="rotate(-90 425.2 483.57)">(% of control)</text>
<path d="M468.8 436.7V432.3H487.8V436.7" stroke="#111" stroke-width="1.3" fill="none"/>
<text x="478.9" y="432.8" font-size="9" text-anchor="middle" font-weight="bold" fill="#222" letter-spacing="1.2">***</text>
<path d="M490.1 436.7V432.3H528.7V436.7" stroke="#111" stroke-width="1.3" fill="none"/>
<text x="510.8" y="432" font-size="10" text-anchor="middle" font-weight="bold" fill="#000" letter-spacing="-0.3">###</text>
<path d="M563.2 439V434.6H581.4V439" stroke="#111" stroke-width="1.3" fill="none"/>
<text x="572.9" y="435.1" font-size="9" text-anchor="middle" font-weight="bold" fill="#222" letter-spacing="1.2">***</text>
<path d="M584.3 439V434.6H622.8V439" stroke="#111" stroke-width="1.3" fill="none"/>
<text x="604.95" y="434.3" font-size="10" text-anchor="middle" font-weight="bold" fill="#000" letter-spacing="-0.3">###</text>
<rect x="143.95" y="1012.85" width="13.9" height="51.15" fill="#fff" stroke="#1a1a1a" stroke-width="1.3"/>
<rect x="167.4" y="996" width="15.2" height="68" fill="#ff0000"/>
<rect x="191.2" y="1019.8" width="15.2" height="44.2" fill="#0000b2"/>
<rect x="215" y="1016.3" width="15.2" height="47.7" fill="#333333"/>
<path d="M150.9 1014.2V1010.2M147.3 1010.2H154.5M147.3 1014.2H154.5" stroke="#1a1a1a" stroke-width="1.1" fill="none"/>
<path d="M175 996V992.2M171.4 992.2H178.6" stroke="#ff5555" stroke-width="1.1" fill="none"/>
<path d="M198.8 1019.8V1015.8M195.2 1015.8H202.4" stroke="#3030e8" stroke-width="1.1" fill="none"/>
<path d="M222.6 1016.3V1012.6M219 1012.6H226.2" stroke="#1a1a1a" stroke-width="1.1" fill="none"/>
<circle cx="150.8" cy="1004.3" r="1.7" fill="#a2a5a9"/>
<circle cx="144.2" cy="1012.6" r="1.7" fill="#a2a5a9"/>
<circle cx="150.8" cy="1013.3" r="1.7" fill="#a2a5a9"/>
<circle cx="157.3" cy="1013.3" r="1.7" fill="#a2a5a9"/>
<circle cx="150.8" cy="1015.4" r="1.7" fill="#a2a5a9"/>
<circle cx="150.8" cy="1017.7" r="1.7" fill="#a2a5a9"/>
<rect x="169.75" y="985.35" width="3.7" height="3.7" fill="#a2a5a9"/>
<rect x="175.85" y="983.45" width="3.7" height="3.7" fill="#a2a5a9"/>
<rect x="172.85" y="990.65" width="3.7" height="3.7" fill="#a2a5a9"/>
<rect x="172.85" y="995.95" width="3.7" height="3.7" fill="#a2a5a9"/>
<rect x="172.85" y="1000.35" width="3.7" height="3.7" fill="#a2a5a9"/>
<rect x="172.85" y="1008.35" width="3.7" height="3.7" fill="#a2a5a9"/>
<path d="M195.5 1009.7L197.4 1013.12L193.6 1013.12Z" fill="#a2a5a9"/>
<path d="M201.7 1007.5L203.6 1010.92L199.8 1010.92Z" fill="#a2a5a9"/>
<path d="M198.5 1013.9L200.4 1017.32L196.6 1017.32Z" fill="#a2a5a9"/>
<path d="M198.5 1020.4L200.4 1023.82L196.6 1023.82Z" fill="#a2a5a9"/>
<path d="M195.5 1028.7L197.4 1032.12L193.6 1032.12Z" fill="#a2a5a9"/>
<path d="M201.7 1026.4L203.6 1029.82L199.8 1029.82Z" fill="#a2a5a9"/>
<path d="M219.3 1010.3L221.2 1006.88L217.4 1006.88Z" fill="#a2a5a9"/>
<path d="M225.3 1008L227.2 1004.58L223.4 1004.58Z" fill="#a2a5a9"/>
<path d="M219.3 1018.2L221.2 1014.78L217.4 1014.78Z" fill="#a2a5a9"/>
<path d="M225.3 1016.6L227.2 1013.18L223.4 1013.18Z" fill="#a2a5a9"/>
<path d="M219.3 1026.6L221.2 1023.18L217.4 1023.18Z" fill="#a2a5a9"/>
<path d="M225.3 1024.9L227.2 1021.48L223.4 1021.48Z" fill="#a2a5a9"/>
<path d="M134.4 960.5V1064H239.5" stroke="#111111" stroke-width="1.3" fill="none"/>
<path d="M129.9 1064H134.4" stroke="#111111" stroke-width="1.3"/>
<text x="128.7" y="1066.77" font-size="7.7" text-anchor="end" font-weight="bold" fill="#000">0</text>
<path d="M129.9 1038.12H134.4" stroke="#111111" stroke-width="1.3"/>
<text x="128.7" y="1040.9" font-size="7.7" text-anchor="end" font-weight="bold" fill="#000">50</text>
<path d="M129.9 1012.25H134.4" stroke="#111111" stroke-width="1.3"/>
<text x="128.7" y="1015.02" font-size="7.7" text-anchor="end" font-weight="bold" fill="#000">100</text>
<path d="M129.9 986.38H134.4" stroke="#111111" stroke-width="1.3"/>
<text x="128.7" y="989.15" font-size="7.7" text-anchor="end" font-weight="bold" fill="#000">150</text>
<path d="M129.9 960.5H134.4" stroke="#111111" stroke-width="1.3"/>
<text x="128.7" y="963.27" font-size="7.7" text-anchor="end" font-weight="bold" fill="#000">200</text>
<path d="M150.9 1064V1069" stroke="#111111" stroke-width="1.3"/>
<path d="M175 1064V1069" stroke="#111111" stroke-width="1.3"/>
<path d="M198.8 1064V1069" stroke="#111111" stroke-width="1.3"/>
<path d="M222.6 1064V1069" stroke="#111111" stroke-width="1.3"/>
<text x="102" y="1012.25" font-size="8.3" text-anchor="middle" font-weight="bold" fill="#000" transform="rotate(-90 102 1012.25)">Number of GFAP cells in DG</text>
<text x="111.6" y="1012.25" font-size="8.5" text-anchor="middle" font-weight="bold" fill="#000" transform="rotate(-90 111.6 1012.25)">(% of control)</text>
<path d="M150.3 980V975.2H173.6V980" stroke="#111" stroke-width="1.3" fill="none"/>
<text x="162.55" y="975.7" font-size="8" text-anchor="middle" font-weight="bold" fill="#222" letter-spacing="1.2">**</text>
<path d="M176.4 980V975.2H222.5V980" stroke="#111" stroke-width="1.3" fill="none"/>
<text x="200.85" y="974.9" font-size="10" text-anchor="middle" font-weight="normal" fill="#555" letter-spacing="-0.3">##</text>
<rect x="458.35" y="1011.85" width="14.1" height="50.25" fill="#fff" stroke="#1a1a1a" stroke-width="1.3"/>
<rect x="481.2" y="984.6" width="15.4" height="77.5" fill="#ff0000"/>
<rect x="505.3" y="1007.2" width="15.4" height="54.9" fill="#0000b2"/>
<rect x="529" y="1011.2" width="15.4" height="50.9" fill="#000000"/>
<path d="M465.4 1014.7V1007.7M461.8 1007.7H469M461.8 1014.7H469" stroke="#1a1a1a" stroke-width="1.1" fill="none"/>
<path d="M488.9 984.6V981.1M485.3 981.1H492.5" stroke="#ff5555" stroke-width="1.1" fill="none"/>
<path d="M513 1007.2V1002.6M509.4 1002.6H516.6" stroke="#3030e8" stroke-width="1.1" fill="none"/>
<path d="M536.7 1011.2V1007.4M533.1 1007.4H540.3" stroke="#1a1a1a" stroke-width="1.1" fill="none"/>
<circle cx="462.2" cy="1002.2" r="1.7" fill="#a2a5a9"/>
<circle cx="468.5" cy="1002.2" r="1.7" fill="#a2a5a9"/>
<circle cx="465.4" cy="1010.2" r="1.7" fill="#a2a5a9"/>
<circle cx="465.4" cy="1014.7" r="1.7" fill="#a2a5a9"/>
<circle cx="462.2" cy="1019.2" r="1.7" fill="#a2a5a9"/>
<circle cx="468.5" cy="1017.8" r="1.7" fill="#a2a5a9"/>
<rect x="487.15" y="973.45" width="3.7" height="3.7" fill="#a2a5a9"/>
<rect x="484.35" y="976.75" width="3.7" height="3.7" fill="#a2a5a9"/>
<rect x="490.35" y="976.75" width="3.7" height="3.7" fill="#a2a5a9"/>
<rect x="487.15" y="984.55" width="3.7" height="3.7" fill="#a2a5a9"/>
<rect x="487.15" y="989.25" width="3.7" height="3.7" fill="#a2a5a9"/>
<rect x="487.15" y="995.65" width="3.7" height="3.7" fill="#a2a5a9"/>
<path d="M513 988.6L514.9 992.02L511.1 992.02Z" fill="#a2a5a9"/>
<path d="M513 996.9L514.9 1000.32L511.1 1000.32Z" fill="#a2a5a9"/>
<path d="M513 1008.6L514.9 1012.02L511.1 1012.02Z" fill="#a2a5a9"/>
<path d="M513 1012.5L514.9 1015.92L511.1 1015.92Z" fill="#a2a5a9"/>
<path d="M506.6 1014.6L508.5 1018.02L504.7 1018.02Z" fill="#a2a5a9"/>
<path d="M519.1 1013.2L521 1016.62L517.2 1016.62Z" fill="#a2a5a9"/>
<path d="M536.8 1000.3L538.7 996.88L534.9 996.88Z" fill="#a2a5a9"/>
<path d="M536.8 1003.5L538.7 1000.08L534.9 1000.08Z" fill="#a2a5a9"/>
<path d="M536.8 1011.4L538.7 1007.98L534.9 1007.98Z" fill="#a2a5a9"/>
<path d="M536.8 1016.3L538.7 1012.88L534.9 1012.88Z" fill="#a2a5a9"/>
<path d="M536.8 1019.7L538.7 1016.28L534.9 1016.28Z" fill="#a2a5a9"/>
<path d="M536.8 1023.5L538.7 1020.08L534.9 1020.08Z" fill="#a2a5a9"/>
<path d="M449 959.3V1062.1H553" stroke="#111111" stroke-width="1.3" fill="none"/>
<path d="M444.5 1062.1H449" stroke="#111111" stroke-width="1.3"/>
<text x="443.3" y="1064.87" font-size="7.7" text-anchor="end" font-weight="bold" fill="#000">0</text>
<path d="M444.5 1036.4H449" stroke="#111111" stroke-width="1.3"/>
<text x="443.3" y="1039.17" font-size="7.7" text-anchor="end" font-weight="bold" fill="#000">50</text>
<path d="M444.5 1010.7H449" stroke="#111111" stroke-width="1.3"/>
<text x="443.3" y="1013.47" font-size="7.7" text-anchor="end" font-weight="bold" fill="#000">100</text>
<path d="M444.5 985H449" stroke="#111111" stroke-width="1.3"/>
<text x="443.3" y="987.77" font-size="7.7" text-anchor="end" font-weight="bold" fill="#000">150</text>
<path d="M444.5 959.3H449" stroke="#111111" stroke-width="1.3"/>
<text x="443.3" y="962.07" font-size="7.7" text-anchor="end" font-weight="bold" fill="#000">200</text>
<path d="M465.4 1062.1V1067.1" stroke="#111111" stroke-width="1.3"/>
<path d="M488.9 1062.1V1067.1" stroke="#111111" stroke-width="1.3"/>
<path d="M513 1062.1V1067.1" stroke="#111111" stroke-width="1.3"/>
<path d="M536.7 1062.1V1067.1" stroke="#111111" stroke-width="1.3"/>
<text x="416.6" y="1010.7" font-size="8.3" text-anchor="middle" font-weight="bold" fill="#000" transform="rotate(-90 416.6 1010.7)">Number of IBA1 cells in DG</text>
<text x="426.2" y="1010.7" font-size="8.5" text-anchor="middle" font-weight="bold" fill="#000" transform="rotate(-90 426.2 1010.7)">(% of control)</text>
<path d="M464.7 972.5V968H488.3V972.5" stroke="#111" stroke-width="1.3" fill="none"/>
<text x="477.1" y="968.5" font-size="8" text-anchor="middle" font-weight="bold" fill="#222" letter-spacing="1.2">***</text>
<path d="M490 972.5V968H536.2V972.5" stroke="#111" stroke-width="1.3" fill="none"/>
<text x="514.5" y="967.7" font-size="10" text-anchor="middle" font-weight="normal" fill="#666" letter-spacing="-0.3">###</text>
<text x="153.7" y="1074.4" font-size="7.9" text-anchor="end" font-weight="bold" fill="#000" transform="rotate(-45 153.7 1074.4)">Control</text>
<text x="177.8" y="1074.4" font-size="7.9" text-anchor="end" font-weight="bold" fill="#000" transform="rotate(-45 177.8 1074.4)">CUMS</text>
<text x="201.6" y="1074.4" font-size="7.9" text-anchor="end" font-weight="bold" fill="#000" transform="rotate(-45 201.6 1074.4)">Music</text>
<text x="225.4" y="1074.4" font-size="7.9" text-anchor="end" font-weight="bold" fill="#000" transform="rotate(-45 225.4 1074.4)">CUMS+Music</text>
<text x="468.2" y="1072.5" font-size="7.9" text-anchor="end" font-weight="bold" fill="#000" transform="rotate(-45 468.2 1072.5)">Control</text>
<text x="491.7" y="1072.5" font-size="7.9" text-anchor="end" font-weight="bold" fill="#000" transform="rotate(-45 491.7 1072.5)">CUMS</text>
<text x="515.8" y="1072.5" font-size="7.9" text-anchor="end" font-weight="bold" fill="#000" transform="rotate(-45 515.8 1072.5)">Music</text>
<text x="539.5" y="1072.5" font-size="7.9" text-anchor="end" font-weight="bold" fill="#000" transform="rotate(-45 539.5 1072.5)">CUMS+Music</text>
<rect x="285" y="33.65" width="11.4" height="5.2" fill="#fff" stroke="#1a1a1a" stroke-width="1.3"/>
<circle cx="303.3" cy="36.25" r="1.78" fill="#a2a5a9"/>
<text x="317" y="39.15" font-size="9.8" text-anchor="start" font-weight="bold" fill="#000">Control</text>
<rect x="284.4" y="49.25" width="12.6" height="6.4" fill="#ff0000"/>
<rect x="301.36" y="50.51" width="3.89" height="3.89" fill="#a2a5a9"/>
<text x="317" y="55.35" font-size="9.8" text-anchor="start" font-weight="bold" fill="#000">CUMS</text>
<rect x="284.4" y="65.5" width="12.6" height="6.4" fill="#0000b2"/>
<path d="M303.3 66.7L305.3 70.3L301.31 70.3Z" fill="#a2a5a9"/>
<text x="317" y="71.6" font-size="9.8" text-anchor="start" font-weight="bold" fill="#000">Music</text>
<rect x="284.4" y="81.75" width="12.6" height="6.4" fill="#000000"/>
<path d="M303.3 86.95L305.3 83.35L301.31 83.35Z" fill="#a2a5a9"/>
<text x="317" y="87.85" font-size="9.8" text-anchor="start" font-weight="bold" fill="#000">CUMS+Music</text>
<path d="M1.2 575H685" stroke="#111" stroke-width="1.9" stroke-dasharray="6.5 4.066"/>
<defs>
<filter id="fSpB0" x="0" y="0" width="1" height="1" color-interpolation-filters="sRGB">
<feTurbulence type="fractalNoise" baseFrequency="0.45" numOctaves="2" seed="3"/>
<feColorMatrix type="matrix" values="0 0 0 0 0.08  0 0 0 0 0.08  0 0 0 0 0.9  12 0 0 0 -7.8"/>
<feGaussianBlur stdDeviation="0.5"/>
</filter>
<filter id="fBand0" x="-0.1" y="-0.1" width="1.2" height="1.2" color-interpolation-filters="sRGB">
<feTurbulence type="fractalNoise" baseFrequency="0.25" numOctaves="2" seed="9" result="d"/>
<feMorphology in="SourceGraphic" operator="erode" radius="1.2" result="er"/>
<feDisplacementMap in="er" in2="d" scale="5" xChannelSelector="R" yChannelSelector="G" result="disp"/>
<feGaussianBlur in="disp" stdDeviation="0.8" result="b"/>
<feTurbulence type="fractalNoise" baseFrequency="0.55" numOctaves="2" seed="5" result="n"/>
<feColorMatrix in="n" type="matrix" values="0 0 0 0 0  0 0 0 0 0  0 0 0 0 0  3 0 0 0 -0.3" result="na"/>
<feComposite in="b" in2="na" operator="in"/>
</filter>
<filter id="fRed0" x="0" y="0" width="1" height="1" color-interpolation-filters="sRGB">
<feTurbulence type="turbulence" baseFrequency="0.075" numOctaves="2" seed="11"/>
<feColorMatrix type="matrix" values="0 0 0 0 0.72  0 0 0 0 0.02  0 0 0 0 0.02  -13 0 0 0 1.0"/>
<feGaussianBlur stdDeviation="0.45"/>
</filter>
<filter id="fRedM0" x="0" y="0" width="1" height="1" color-interpolation-filters="sRGB">
<feTurbulence type="turbulence" baseFrequency="0.075" numOctaves="2" seed="11"/>
<feColorMatrix type="matrix" values="0 0 0 0 0.8  0 0 0 0 0.08  0 0 0 0 0.7  -13 0 0 0 1.1"/>
<feGaussianBlur stdDeviation="0.45"/>
</filter>
<filter id="fSpB1" x="0" y="0" width="1" height="1" color-interpolation-filters="sRGB">
<feTurbulence type="fractalNoise" baseFrequency="0.45" numOctaves="2" seed="10"/>
<feColorMatrix type="matrix" values="0 0 0 0 0.08  0 0 0 0 0.08  0 0 0 0 0.9  12 0 0 0 -7.8"/>
<feGaussianBlur stdDeviation="0.5"/>
</filter>
<filter id="fBand1" x="-0.1" y="-0.1" width="1.2" height="1.2" color-interpolation-filters="sRGB">
<feTurbulence type="fractalNoise" baseFrequency="0.25" numOctaves="2" seed="12" result="d"/>
<feMorphology in="SourceGraphic" operator="erode" radius="1.2" result="er"/>
<feDisplacementMap in="er" in2="d" scale="5" xChannelSelector="R" yChannelSelector="G" result="disp"/>
<feGaussianBlur in="disp" stdDeviation="0.8" result="b"/>
<feTurbulence type="fractalNoise" baseFrequency="0.55" numOctaves="2" seed="8" result="n"/>
<feColorMatrix in="n" type="matrix" values="0 0 0 0 0  0 0 0 0 0  0 0 0 0 0  3 0 0 0 -0.3" result="na"/>
<feComposite in="b" in2="na" operator="in"/>
</filter>
<filter id="fRed1" x="0" y="0" width="1" height="1" color-interpolation-filters="sRGB">
<feTurbulence type="turbulence" baseFrequency="0.075" numOctaves="2" seed="16"/>
<feColorMatrix type="matrix" values="0 0 0 0 0.72  0 0 0 0 0.02  0 0 0 0 0.02  -13 0 0 0 1.0"/>
<feGaussianBlur stdDeviation="0.45"/>
</filter>
<filter id="fRedM1" x="0" y="0" width="1" height="1" color-interpolation-filters="sRGB">
<feTurbulence type="turbulence" baseFrequency="0.075" numOctaves="2" seed="16"/>
<feColorMatrix type="matrix" values="0 0 0 0 0.8  0 0 0 0 0.08  0 0 0 0 0.7  -13 0 0 0 1.1"/>
<feGaussianBlur stdDeviation="0.45"/>
</filter>
<filter id="fSpB2" x="0" y="0" width="1" height="1" color-interpolation-filters="sRGB">
<feTurbulence type="fractalNoise" baseFrequency="0.45" numOctaves="2" seed="17"/>
<feColorMatrix type="matrix" values="0 0 0 0 0.08  0 0 0 0 0.08  0 0 0 0 0.9  12 0 0 0 -7.8"/>
<feGaussianBlur stdDeviation="0.5"/>
</filter>
<filter id="fBand2" x="-0.1" y="-0.1" width="1.2" height="1.2" color-interpolation-filters="sRGB">
<feTurbulence type="fractalNoise" baseFrequency="0.25" numOctaves="2" seed="15" result="d"/>
<feMorphology in="SourceGraphic" operator="erode" radius="1.2" result="er"/>
<feDisplacementMap in="er" in2="d" scale="5" xChannelSelector="R" yChannelSelector="G" result="disp"/>
<feGaussianBlur in="disp" stdDeviation="0.8" result="b"/>
<feTurbulence type="fractalNoise" baseFrequency="0.55" numOctaves="2" seed="11" result="n"/>
<feColorMatrix in="n" type="matrix" values="0 0 0 0 0  0 0 0 0 0  0 0 0 0 0  3 0 0 0 -0.3" result="na"/>
<feComposite in="b" in2="na" operator="in"/>
</filter>
<filter id="fRed2" x="0" y="0" width="1" height="1" color-interpolation-filters="sRGB">
<feTurbulence type="turbulence" baseFrequency="0.075" numOctaves="2" seed="21"/>
<feColorMatrix type="matrix" values="0 0 0 0 0.72  0 0 0 0 0.02  0 0 0 0 0.02  -13 0 0 0 1.0"/>
<feGaussianBlur stdDeviation="0.45"/>
</filter>
<filter id="fRedM2" x="0" y="0" width="1" height="1" color-interpolation-filters="sRGB">
<feTurbulence type="turbulence" baseFrequency="0.075" numOctaves="2" seed="21"/>
<feColorMatrix type="matrix" values="0 0 0 0 0.8  0 0 0 0 0.08  0 0 0 0 0.7  -13 0 0 0 1.1"/>
<feGaussianBlur stdDeviation="0.45"/>
</filter>
<filter id="fSpB3" x="0" y="0" width="1" height="1" color-interpolation-filters="sRGB">
<feTurbulence type="fractalNoise" baseFrequency="0.45" numOctaves="2" seed="24"/>
<feColorMatrix type="matrix" values="0 0 0 0 0.08  0 0 0 0 0.08  0 0 0 0 0.9  12 0 0 0 -7.8"/>
<feGaussianBlur stdDeviation="0.5"/>
</filter>
<filter id="fBand3" x="-0.1" y="-0.1" width="1.2" height="1.2" color-interpolation-filters="sRGB">
<feTurbulence type="fractalNoise" baseFrequency="0.25" numOctaves="2" seed="18" result="d"/>
<feMorphology in="SourceGraphic" operator="erode" radius="1.2" result="er"/>
<feDisplacementMap in="er" in2="d" scale="5" xChannelSelector="R" yChannelSelector="G" result="disp"/>
<feGaussianBlur in="disp" stdDeviation="0.8" result="b"/>
<feTurbulence type="fractalNoise" baseFrequency="0.55" numOctaves="2" seed="14" result="n"/>
<feColorMatrix in="n" type="matrix" values="0 0 0 0 0  0 0 0 0 0  0 0 0 0 0  3 0 0 0 -0.3" result="na"/>
<feComposite in="b" in2="na" operator="in"/>
</filter>
<filter id="fRed3" x="0" y="0" width="1" height="1" color-interpolation-filters="sRGB">
<feTurbulence type="turbulence" baseFrequency="0.075" numOctaves="2" seed="26"/>
<feColorMatrix type="matrix" values="0 0 0 0 0.72  0 0 0 0 0.02  0 0 0 0 0.02  -13 0 0 0 1.0"/>
<feGaussianBlur stdDeviation="0.45"/>
</filter>
<filter id="fRedM3" x="0" y="0" width="1" height="1" color-interpolation-filters="sRGB">
<feTurbulence type="turbulence" baseFrequency="0.075" numOctaves="2" seed="26"/>
<feColorMatrix type="matrix" values="0 0 0 0 0.8  0 0 0 0 0.08  0 0 0 0 0.7  -13 0 0 0 1.1"/>
<feGaussianBlur stdDeviation="0.45"/>
</filter>
<filter id="fSpB4" x="0" y="0" width="1" height="1" color-interpolation-filters="sRGB">
<feTurbulence type="fractalNoise" baseFrequency="0.45" numOctaves="2" seed="31"/>
<feColorMatrix type="matrix" values="0 0 0 0 0.08  0 0 0 0 0.08  0 0 0 0 0.9  12 0 0 0 -7.8"/>
<feGaussianBlur stdDeviation="0.5"/>
</filter>
<filter id="fBand4" x="-0.1" y="-0.1" width="1.2" height="1.2" color-interpolation-filters="sRGB">
<feTurbulence type="fractalNoise" baseFrequency="0.25" numOctaves="2" seed="21" result="d"/>
<feMorphology in="SourceGraphic" operator="erode" radius="1.2" result="er"/>
<feDisplacementMap in="er" in2="d" scale="5" xChannelSelector="R" yChannelSelector="G" result="disp"/>
<feGaussianBlur in="disp" stdDeviation="0.8" result="b"/>
<feTurbulence type="fractalNoise" baseFrequency="0.55" numOctaves="2" seed="17" result="n"/>
<feColorMatrix in="n" type="matrix" values="0 0 0 0 0  0 0 0 0 0  0 0 0 0 0  3 0 0 0 -0.3" result="na"/>
<feComposite in="b" in2="na" operator="in"/>
</filter>
<filter id="fRed4" x="0" y="0" width="1" height="1" color-interpolation-filters="sRGB">
<feTurbulence type="turbulence" baseFrequency="0.075" numOctaves="2" seed="31"/>
<feColorMatrix type="matrix" values="0 0 0 0 0.72  0 0 0 0 0.02  0 0 0 0 0.02  -13 0 0 0 1.0"/>
<feGaussianBlur stdDeviation="0.45"/>
</filter>
<filter id="fRedM4" x="0" y="0" width="1" height="1" color-interpolation-filters="sRGB">
<feTurbulence type="turbulence" baseFrequency="0.075" numOctaves="2" seed="31"/>
<feColorMatrix type="matrix" values="0 0 0 0 0.8  0 0 0 0 0.08  0 0 0 0 0.7  -13 0 0 0 1.1"/>
<feGaussianBlur stdDeviation="0.45"/>
</filter>
<filter id="fSpB5" x="0" y="0" width="1" height="1" color-interpolation-filters="sRGB">
<feTurbulence type="fractalNoise" baseFrequency="0.45" numOctaves="2" seed="38"/>
<feColorMatrix type="matrix" values="0 0 0 0 0.08  0 0 0 0 0.08  0 0 0 0 0.9  12 0 0 0 -7.8"/>
<feGaussianBlur stdDeviation="0.5"/>
</filter>
<filter id="fBand5" x="-0.1" y="-0.1" width="1.2" height="1.2" color-interpolation-filters="sRGB">
<feTurbulence type="fractalNoise" baseFrequency="0.25" numOctaves="2" seed="24" result="d"/>
<feMorphology in="SourceGraphic" operator="erode" radius="1.2" result="er"/>
<feDisplacementMap in="er" in2="d" scale="5" xChannelSelector="R" yChannelSelector="G" result="disp"/>
<feGaussianBlur in="disp" stdDeviation="0.8" result="b"/>
<feTurbulence type="fractalNoise" baseFrequency="0.55" numOctaves="2" seed="20" result="n"/>
<feColorMatrix in="n" type="matrix" values="0 0 0 0 0  0 0 0 0 0  0 0 0 0 0  3 0 0 0 -0.3" result="na"/>
<feComposite in="b" in2="na" operator="in"/>
</filter>
<filter id="fRed5" x="0" y="0" width="1" height="1" color-interpolation-filters="sRGB">
<feTurbulence type="turbulence" baseFrequency="0.075" numOctaves="2" seed="36"/>
<feColorMatrix type="matrix" values="0 0 0 0 0.72  0 0 0 0 0.02  0 0 0 0 0.02  -13 0 0 0 1.0"/>
<feGaussianBlur stdDeviation="0.45"/>
</filter>
<filter id="fRedM5" x="0" y="0" width="1" height="1" color-interpolation-filters="sRGB">
<feTurbulence type="turbulence" baseFrequency="0.075" numOctaves="2" seed="36"/>
<feColorMatrix type="matrix" values="0 0 0 0 0.8  0 0 0 0 0.08  0 0 0 0 0.7  -13 0 0 0 1.1"/>
<feGaussianBlur stdDeviation="0.45"/>
</filter>
<filter id="fSpB6" x="0" y="0" width="1" height="1" color-interpolation-filters="sRGB">
<feTurbulence type="fractalNoise" baseFrequency="0.45" numOctaves="2" seed="45"/>
<feColorMatrix type="matrix" values="0 0 0 0 0.08  0 0 0 0 0.08  0 0 0 0 0.9  12 0 0 0 -7.8"/>
<feGaussianBlur stdDeviation="0.5"/>
</filter>
<filter id="fBand6" x="-0.1" y="-0.1" width="1.2" height="1.2" color-interpolation-filters="sRGB">
<feTurbulence type="fractalNoise" baseFrequency="0.25" numOctaves="2" seed="27" result="d"/>
<feMorphology in="SourceGraphic" operator="erode" radius="1.2" result="er"/>
<feDisplacementMap in="er" in2="d" scale="5" xChannelSelector="R" yChannelSelector="G" result="disp"/>
<feGaussianBlur in="disp" stdDeviation="0.8" result="b"/>
<feTurbulence type="fractalNoise" baseFrequency="0.55" numOctaves="2" seed="23" result="n"/>
<feColorMatrix in="n" type="matrix" values="0 0 0 0 0  0 0 0 0 0  0 0 0 0 0  3 0 0 0 -0.3" result="na"/>
<feComposite in="b" in2="na" operator="in"/>
</filter>
<filter id="fRed6" x="0" y="0" width="1" height="1" color-interpolation-filters="sRGB">
<feTurbulence type="turbulence" baseFrequency="0.075" numOctaves="2" seed="41"/>
<feColorMatrix type="matrix" values="0 0 0 0 0.72  0 0 0 0 0.02  0 0 0 0 0.02  -13 0 0 0 1.0"/>
<feGaussianBlur stdDeviation="0.45"/>
</filter>
<filter id="fRedM6" x="0" y="0" width="1" height="1" color-interpolation-filters="sRGB">
<feTurbulence type="turbulence" baseFrequency="0.075" numOctaves="2" seed="41"/>
<feColorMatrix type="matrix" values="0 0 0 0 0.8  0 0 0 0 0.08  0 0 0 0 0.7  -13 0 0 0 1.1"/>
<feGaussianBlur stdDeviation="0.45"/>
</filter>
<filter id="fSpB7" x="0" y="0" width="1" height="1" color-interpolation-filters="sRGB">
<feTurbulence type="fractalNoise" baseFrequency="0.45" numOctaves="2" seed="52"/>
<feColorMatrix type="matrix" values="0 0 0 0 0.08  0 0 0 0 0.08  0 0 0 0 0.9  12 0 0 0 -7.8"/>
<feGaussianBlur stdDeviation="0.5"/>
</filter>
<filter id="fBand7" x="-0.1" y="-0.1" width="1.2" height="1.2" color-interpolation-filters="sRGB">
<feTurbulence type="fractalNoise" baseFrequency="0.25" numOctaves="2" seed="30" result="d"/>
<feMorphology in="SourceGraphic" operator="erode" radius="1.2" result="er"/>
<feDisplacementMap in="er" in2="d" scale="5" xChannelSelector="R" yChannelSelector="G" result="disp"/>
<feGaussianBlur in="disp" stdDeviation="0.8" result="b"/>
<feTurbulence type="fractalNoise" baseFrequency="0.55" numOctaves="2" seed="26" result="n"/>
<feColorMatrix in="n" type="matrix" values="0 0 0 0 0  0 0 0 0 0  0 0 0 0 0  3 0 0 0 -0.3" result="na"/>
<feComposite in="b" in2="na" operator="in"/>
</filter>
<filter id="fRed7" x="0" y="0" width="1" height="1" color-interpolation-filters="sRGB">
<feTurbulence type="turbulence" baseFrequency="0.075" numOctaves="2" seed="46"/>
<feColorMatrix type="matrix" values="0 0 0 0 0.72  0 0 0 0 0.02  0 0 0 0 0.02  -13 0 0 0 1.0"/>
<feGaussianBlur stdDeviation="0.45"/>
</filter>
<filter id="fRedM7" x="0" y="0" width="1" height="1" color-interpolation-filters="sRGB">
<feTurbulence type="turbulence" baseFrequency="0.075" numOctaves="2" seed="46"/>
<feColorMatrix type="matrix" values="0 0 0 0 0.8  0 0 0 0 0.08  0 0 0 0 0.7  -13 0 0 0 1.1"/>
<feGaussianBlur stdDeviation="0.45"/>
</filter>
<filter id="fRedI4" x="0" y="0" width="1" height="1" color-interpolation-filters="sRGB">
<feTurbulence type="fractalNoise" baseFrequency="0.36" numOctaves="3" seed="41"/>
<feColorMatrix type="matrix" values="0 0 0 0 0.8  0 0 0 0 0.02  0 0 0 0 0.02  9 0 0 0 -5.8"/>
<feGaussianBlur stdDeviation="0.3"/>
</filter>
<filter id="fRedIM4" x="0" y="0" width="1" height="1" color-interpolation-filters="sRGB">
<feTurbulence type="fractalNoise" baseFrequency="0.36" numOctaves="3" seed="41"/>
<feColorMatrix type="matrix" values="0 0 0 0 0.85  0 0 0 0 0.08  0 0 0 0 0.75  9 0 0 0 -6.0"/>
<feGaussianBlur stdDeviation="0.3"/>
</filter>
<filter id="fRedI5" x="0" y="0" width="1" height="1" color-interpolation-filters="sRGB">
<feTurbulence type="fractalNoise" baseFrequency="0.36" numOctaves="3" seed="46"/>
<feColorMatrix type="matrix" values="0 0 0 0 0.8  0 0 0 0 0.02  0 0 0 0 0.02  9 0 0 0 -5.8"/>
<feGaussianBlur stdDeviation="0.3"/>
</filter>
<filter id="fRedIM5" x="0" y="0" width="1" height="1" color-interpolation-filters="sRGB">
<feTurbulence type="fractalNoise" baseFrequency="0.36" numOctaves="3" seed="46"/>
<feColorMatrix type="matrix" values="0 0 0 0 0.85  0 0 0 0 0.08  0 0 0 0 0.75  9 0 0 0 -6.0"/>
<feGaussianBlur stdDeviation="0.3"/>
</filter>
<filter id="fRedI6" x="0" y="0" width="1" height="1" color-interpolation-filters="sRGB">
<feTurbulence type="fractalNoise" baseFrequency="0.36" numOctaves="3" seed="51"/>
<feColorMatrix type="matrix" values="0 0 0 0 0.8  0 0 0 0 0.02  0 0 0 0 0.02  9 0 0 0 -5.8"/>
<feGaussianBlur stdDeviation="0.3"/>
</filter>
<filter id="fRedIM6" x="0" y="0" width="1" height="1" color-interpolation-filters="sRGB">
<feTurbulence type="fractalNoise" baseFrequency="0.36" numOctaves="3" seed="51"/>
<feColorMatrix type="matrix" values="0 0 0 0 0.85  0 0 0 0 0.08  0 0 0 0 0.75  9 0 0 0 -6.0"/>
<feGaussianBlur stdDeviation="0.3"/>
</filter>
<filter id="fRedI7" x="0" y="0" width="1" height="1" color-interpolation-filters="sRGB">
<feTurbulence type="fractalNoise" baseFrequency="0.36" numOctaves="3" seed="56"/>
<feColorMatrix type="matrix" values="0 0 0 0 0.8  0 0 0 0 0.02  0 0 0 0 0.02  9 0 0 0 -5.8"/>
<feGaussianBlur stdDeviation="0.3"/>
</filter>
<filter id="fRedIM7" x="0" y="0" width="1" height="1" color-interpolation-filters="sRGB">
<feTurbulence type="fractalNoise" baseFrequency="0.36" numOctaves="3" seed="56"/>
<feColorMatrix type="matrix" values="0 0 0 0 0.85  0 0 0 0 0.08  0 0 0 0 0.75  9 0 0 0 -6.0"/>
<feGaussianBlur stdDeviation="0.3"/>
</filter>
<filter id="fShade" x="-0.2" y="-0.2" width="1.4" height="1.4"><feGaussianBlur stdDeviation="3"/></filter>
</defs>
<svg x="74" y="601" width="85.5" height="86" viewBox="0 0 85.5 86" overflow="hidden">
<rect width="85.5" height="86" fill="#00000e"/>
<rect width="85.5" height="86" filter="url(#fSpB0)"/>
<g filter="url(#fBand0)" fill="#1414ff"><polygon points="9,0 31,0 86,40 86,68.5"/><polygon points="0,9 59,86 39,86 0,34"/></g>
</svg>
<svg x="159.5" y="601" width="85.5" height="86" viewBox="0 0 85.5 86" overflow="hidden">
<rect width="85.5" height="86" fill="#140000"/>
<rect width="85.5" height="86" filter="url(#fRed0)"/>
<g filter="url(#fShade)" fill="#000" opacity="0.6"><polygon points="9,0 31,0 86,40 86,68.5"/><polygon points="0,9 59,86 39,86 0,34"/></g>
</svg>
<svg x="245" y="601" width="85" height="86" viewBox="0 0 85 86" overflow="hidden">
<rect width="85" height="86" fill="#120218"/>
<rect width="85" height="86" filter="url(#fSpB0)"/>
<g filter="url(#fBand0)" fill="#1614ff"><polygon points="9,0 31,0 86,40 86,68.5"/><polygon points="0,9 59,86 39,86 0,34"/></g>
<rect width="85" height="86" filter="url(#fRedM0)" opacity="0.7"/>
</svg>
<svg x="74" y="687" width="85.5" height="86" viewBox="0 0 85.5 86" overflow="hidden">
<rect width="85.5" height="86" fill="#00000e"/>
<rect width="85.5" height="86" filter="url(#fSpB1)"/>
<g filter="url(#fBand1)" fill="#1414ff"><polygon points="12.5,0 28,0 86,37 86,63"/><polygon points="0,10.4 59,86 37,86 0,38.5"/></g>
</svg>
<svg x="159.5" y="687" width="85.5" height="86" viewBox="0 0 85.5 86" overflow="hidden">
<rect width="85.5" height="86" fill="#140000"/>
<rect width="85.5" height="86" filter="url(#fRed1)"/>
<g filter="url(#fShade)" fill="#000" opacity="0.6"><polygon points="12.5,0 28,0 86,37 86,63"/><polygon points="0,10.4 59,86 37,86 0,38.5"/></g>
</svg>
<svg x="245" y="687" width="85" height="86" viewBox="0 0 85 86" overflow="hidden">
<rect width="85" height="86" fill="#120218"/>
<rect width="85" height="86" filter="url(#fSpB1)"/>
<g filter="url(#fBand1)" fill="#1614ff"><polygon points="12.5,0 28,0 86,37 86,63"/><polygon points="0,10.4 59,86 37,86 0,38.5"/></g>
<rect width="85" height="86" filter="url(#fRedM1)" opacity="0.7"/>
</svg>
<svg x="74" y="773" width="85.5" height="86" viewBox="0 0 85.5 86" overflow="hidden">
<rect width="85.5" height="86" fill="#00000e"/>
<rect width="85.5" height="86" filter="url(#fSpB2)"/>
<g filter="url(#fBand2)" fill="#1414ff"><polygon points="7.5,0 26,0 86,50 86,66.5"/><polygon points="0,12.5 63,86 37.5,86 0,40"/></g>
</svg>
<svg x="159.5" y="773" width="85.5" height="86" viewBox="0 0 85.5 86" overflow="hidden">
<rect width="85.5" height="86" fill="#140000"/>
<rect width="85.5" height="86" filter="url(#fRed2)"/>
<g filter="url(#fShade)" fill="#000" opacity="0.6"><polygon points="7.5,0 26,0 86,50 86,66.5"/><polygon points="0,12.5 63,86 37.5,86 0,40"/></g>
</svg>
<svg x="245" y="773" width="85" height="86" viewBox="0 0 85 86" overflow="hidden">
<rect width="85" height="86" fill="#120218"/>
<rect width="85" height="86" filter="url(#fSpB2)"/>
<g filter="url(#fBand2)" fill="#1614ff"><polygon points="7.5,0 26,0 86,50 86,66.5"/><polygon points="0,12.5 63,86 37.5,86 0,40"/></g>
<rect width="85" height="86" filter="url(#fRedM2)" opacity="0.7"/>
</svg>
<svg x="74" y="859" width="85.5" height="85.79999999999995" viewBox="0 0 85.5 85.79999999999995" overflow="hidden">
<rect width="85.5" height="85.79999999999995" fill="#00000e"/>
<rect width="85.5" height="85.79999999999995" filter="url(#fSpB3)"/>
<g filter="url(#fBand3)" fill="#1414ff"><polygon points="12.5,0 29,0 86,50 86,68"/><polygon points="0,7.5 63,86 38,86 0,33"/></g>
</svg>
<svg x="159.5" y="859" width="85.5" height="85.79999999999995" viewBox="0 0 85.5 85.79999999999995" overflow="hidden">
<rect width="85.5" height="85.79999999999995" fill="#140000"/>
<rect width="85.5" height="85.79999999999995" filter="url(#fRed3)"/>
<g filter="url(#fShade)" fill="#000" opacity="0.6"><polygon points="12.5,0 29,0 86,50 86,68"/><polygon points="0,7.5 63,86 38,86 0,33"/></g>
</svg>
<svg x="245" y="859" width="85" height="85.79999999999995" viewBox="0 0 85 85.79999999999995" overflow="hidden">
<rect width="85" height="85.79999999999995" fill="#120218"/>
<rect width="85" height="85.79999999999995" filter="url(#fSpB3)"/>
<g filter="url(#fBand3)" fill="#1614ff"><polygon points="12.5,0 29,0 86,50 86,68"/><polygon points="0,7.5 63,86 38,86 0,33"/></g>
<rect width="85" height="85.79999999999995" filter="url(#fRedM3)" opacity="0.7"/>
</svg>
<path d="M74 687.5H330" stroke="#a8a8a8" stroke-width="1"/>
<path d="M74 773.5H330" stroke="#a8a8a8" stroke-width="1"/>
<path d="M74 859.5H330" stroke="#a8a8a8" stroke-width="1"/>
<path d="M159 601V945" stroke="#8a8a8a" stroke-width="0.8"/>
<path d="M244.5 601V945" stroke="#8a8a8a" stroke-width="0.8"/>
<path d="M74 945V601H330" fill="none" stroke="#9a9aa4" stroke-width="0.9"/>
<svg x="389" y="601" width="85.5" height="86" viewBox="0 0 85.5 86" overflow="hidden">
<rect width="85.5" height="86" fill="#00000e"/>
<rect width="85.5" height="86" filter="url(#fSpB4)"/>
<g filter="url(#fBand4)" fill="#1414ff"><polygon points="8.8,0 34,0 86,34 86,54"/><polygon points="0,7.5 52.7,86 32.6,86 0,35"/></g>
</svg>
<svg x="474.5" y="601" width="85.5" height="86" viewBox="0 0 85.5 86" overflow="hidden">
<rect width="85.5" height="86" fill="#140000"/>
<rect width="85.5" height="86" filter="url(#fRedI4)"/>
<g filter="url(#fShade)" fill="#000" opacity="0.6"><polygon points="8.8,0 34,0 86,34 86,54"/><polygon points="0,7.5 52.7,86 32.6,86 0,35"/></g>
</svg>
<svg x="560" y="601" width="85" height="86" viewBox="0 0 85 86" overflow="hidden">
<rect width="85" height="86" fill="#120218"/>
<rect width="85" height="86" filter="url(#fSpB4)"/>
<g filter="url(#fBand4)" fill="#1614ff"><polygon points="8.8,0 34,0 86,34 86,54"/><polygon points="0,7.5 52.7,86 32.6,86 0,35"/></g>
<rect width="85" height="86" filter="url(#fRedIM4)" opacity="0.6"/>
</svg>
<svg x="389" y="687" width="85.5" height="86" viewBox="0 0 85.5 86" overflow="hidden">
<rect width="85.5" height="86" fill="#00000e"/>
<rect width="85.5" height="86" filter="url(#fSpB5)"/>
<g filter="url(#fBand5)" fill="#1414ff"><polygon points="15.6,0 39,0 86,37 86,54"/><polygon points="0,10 59,86 31,86 0,35"/></g>
</svg>
<svg x="474.5" y="687" width="85.5" height="86" viewBox="0 0 85.5 86" overflow="hidden">
<rect width="85.5" height="86" fill="#140000"/>
<rect width="85.5" height="86" filter="url(#fRedI5)"/>
<g filter="url(#fShade)" fill="#000" opacity="0.6"><polygon points="15.6,0 39,0 86,37 86,54"/><polygon points="0,10 59,86 31,86 0,35"/></g>
</svg>
<svg x="560" y="687" width="85" height="86" viewBox="0 0 85 86" overflow="hidden">
<rect width="85" height="86" fill="#120218"/>
<rect width="85" height="86" filter="url(#fSpB5)"/>
<g filter="url(#fBand5)" fill="#1614ff"><polygon points="15.6,0 39,0 86,37 86,54"/><polygon points="0,10 59,86 31,86 0,35"/></g>
<rect width="85" height="86" filter="url(#fRedIM5)" opacity="0.6"/>
</svg>
<svg x="389" y="773" width="85.5" height="86" viewBox="0 0 85.5 86" overflow="hidden">
<rect width="85.5" height="86" fill="#00000e"/>
<rect width="85.5" height="86" filter="url(#fSpB6)"/>
<g filter="url(#fBand6)" fill="#1414ff"><polygon points="15.6,0 33,0 86,31 86,53"/><polygon points="0,12.5 54.5,86 36,86 0,37"/></g>
</svg>
<svg x="474.5" y="773" width="85.5" height="86" viewBox="0 0 85.5 86" overflow="hidden">
<rect width="85.5" height="86" fill="#140000"/>
<rect width="85.5" height="86" filter="url(#fRedI6)"/>
<g filter="url(#fShade)" fill="#000" opacity="0.6"><polygon points="15.6,0 33,0 86,31 86,53"/><polygon points="0,12.5 54.5,86 36,86 0,37"/></g>
</svg>
<svg x="560" y="773" width="85" height="86" viewBox="0 0 85 86" overflow="hidden">
<rect width="85" height="86" fill="#120218"/>
<rect width="85" height="86" filter="url(#fSpB6)"/>
<g filter="url(#fBand6)" fill="#1614ff"><polygon points="15.6,0 33,0 86,31 86,53"/><polygon points="0,12.5 54.5,86 36,86 0,37"/></g>
<rect width="85" height="86" filter="url(#fRedIM6)" opacity="0.6"/>
</svg>
<svg x="389" y="859" width="85.5" height="85.79999999999995" viewBox="0 0 85.5 85.79999999999995" overflow="hidden">
<rect width="85.5" height="85.79999999999995" fill="#00000e"/>
<rect width="85.5" height="85.79999999999995" filter="url(#fSpB7)"/>
<g filter="url(#fBand7)" fill="#1414ff"><polygon points="17,0 39,0 86,23 86,35"/><polygon points="0,18 62,86 39,86 0,46"/></g>
</svg>
<svg x="474.5" y="859" width="85.5" height="85.79999999999995" viewBox="0 0 85.5 85.79999999999995" overflow="hidden">
<rect width="85.5" height="85.79999999999995" fill="#140000"/>
<rect width="85.5" height="85.79999999999995" filter="url(#fRedI7)"/>
<g filter="url(#fShade)" fill="#000" opacity="0.6"><polygon points="17,0 39,0 86,23 86,35"/><polygon points="0,18 62,86 39,86 0,46"/></g>
</svg>
<svg x="560" y="859" width="85" height="85.79999999999995" viewBox="0 0 85 85.79999999999995" overflow="hidden">
<rect width="85" height="85.79999999999995" fill="#120218"/>
<rect width="85" height="85.79999999999995" filter="url(#fSpB7)"/>
<g filter="url(#fBand7)" fill="#1614ff"><polygon points="17,0 39,0 86,23 86,35"/><polygon points="0,18 62,86 39,86 0,46"/></g>
<rect width="85" height="85.79999999999995" filter="url(#fRedIM7)" opacity="0.6"/>
</svg>
<path d="M389 687.5H645" stroke="#a8a8a8" stroke-width="1"/>
<path d="M389 773.5H645" stroke="#a8a8a8" stroke-width="1"/>
<path d="M389 859.5H645" stroke="#a8a8a8" stroke-width="1"/>
<path d="M474 601V945" stroke="#8a8a8a" stroke-width="0.8"/>
<path d="M559.5 601V945" stroke="#8a8a8a" stroke-width="0.8"/>
<path d="M389 945V601H645" fill="none" stroke="#9a9aa4" stroke-width="0.9"/>
<rect x="40" y="687.3" width="27.5" height="86" fill="#ff0000"/>
<rect x="40" y="773.2" width="27.5" height="86" fill="#0000b2"/>
<rect x="40" y="859.2" width="27.5" height="85.6" fill="#000"/>
<text x="57.7" y="644" font-size="10.5" text-anchor="middle" font-weight="bold" fill="#000" transform="rotate(-90 57.7 644)">Control</text>
<text x="57.7" y="731" font-size="10.5" text-anchor="middle" font-weight="bold" fill="#000" transform="rotate(-90 57.7 731)">CUMS</text>
<text x="57.7" y="816.5" font-size="10.5" text-anchor="middle" font-weight="bold" fill="#fff" transform="rotate(-90 57.7 816.5)">Music</text>
<text x="52.1" y="902" font-size="10.5" text-anchor="middle" font-weight="bold" fill="#fff" transform="rotate(-90 52.1 902)">CUMS</text>
<text x="63.3" y="902" font-size="10.5" text-anchor="middle" font-weight="bold" fill="#fff" transform="rotate(-90 63.3 902)">+Music</text>
<rect x="356.7" y="688.8" width="27.5" height="84.5" fill="#ff0000"/>
<rect x="356.7" y="773.2" width="27.5" height="86" fill="#0000b2"/>
<rect x="356.7" y="859.2" width="27.5" height="85.6" fill="#000"/>
<text x="374.4" y="647" font-size="10.5" text-anchor="middle" font-weight="bold" fill="#000" transform="rotate(-90 374.4 647)">Control</text>
<text x="374.4" y="731" font-size="10.5" text-anchor="middle" font-weight="bold" fill="#000" transform="rotate(-90 374.4 731)">CUMS</text>
<text x="374.4" y="816.5" font-size="10.5" text-anchor="middle" font-weight="bold" fill="#fff" transform="rotate(-90 374.4 816.5)">Music</text>
<text x="368.8" y="902" font-size="10.5" text-anchor="middle" font-weight="bold" fill="#fff" transform="rotate(-90 368.8 902)">CUMS</text>
<text x="380" y="902" font-size="10.5" text-anchor="middle" font-weight="bold" fill="#fff" transform="rotate(-90 380 902)">+Music</text>
<text x="173" y="598.2" font-size="11.8" text-anchor="start" font-weight="bold" fill="#1010ee">DAPI</text>
<text x="205.4" y="598.2" font-size="11.8" text-anchor="start" font-weight="bold" fill="#111">/</text>
<text x="212.5" y="598.2" font-size="11.8" text-anchor="start" font-weight="bold" fill="#c40000">GFAP</text>
<text x="483" y="598.2" font-size="11.8" text-anchor="start" font-weight="bold" fill="#1010ee">DAPI</text>
<text x="515.4" y="598.2" font-size="11.8" text-anchor="start" font-weight="bold" fill="#111">/</text>
<text x="522.2" y="598.2" font-size="11.8" text-anchor="start" font-weight="bold" fill="#c40000">IBA1</text>
<rect x="133.4" y="677.5" width="25.8" height="9" fill="#000" opacity="0.8"/>
<rect x="134.9" y="682.7" width="22.8" height="3" fill="#fff"/>
<text x="134.4" y="681" font-size="5.3" text-anchor="start" font-weight="bold" fill="#fff">0</text>
<text x="158.3" y="681" font-size="5.3" text-anchor="end" font-weight="bold" fill="#fff">100μm</text>
<rect x="450" y="682.1" width="22" height="3" fill="#fff"/>
<text x="448.2" y="680.4" font-size="5.3" text-anchor="start" font-weight="bold" fill="#fff">0</text>
<text x="472.6" y="680.4" font-size="5.3" text-anchor="end" font-weight="bold" fill="#fff">100μm</text>
</svg></body></html>
